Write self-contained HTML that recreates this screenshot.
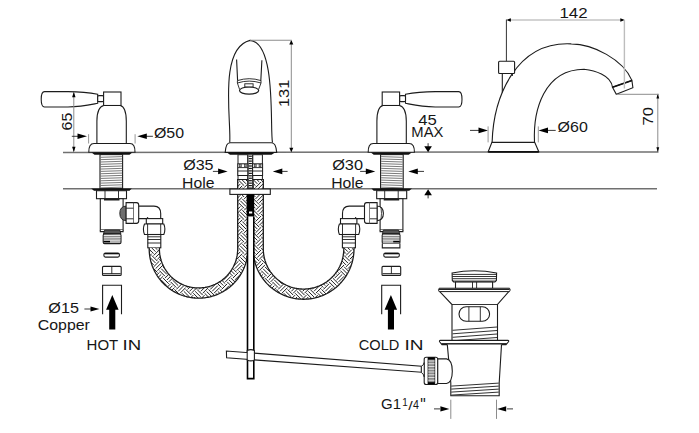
<!DOCTYPE html>
<html><head><meta charset="utf-8"><style>
html,body{margin:0;padding:0;background:#fff;overflow:hidden;}
svg{display:block;}
text{font-family:"Liberation Sans",sans-serif;fill:#161616;}
</style></head><body>
<svg width="699" height="433" viewBox="0 0 699 433">
<line x1="63.00" y1="152.45" x2="658.50" y2="151.95" stroke="#707070" stroke-width="1.45" />
<line x1="63.00" y1="188.80" x2="657.00" y2="188.80" stroke="#707070" stroke-width="1.45" />
<g><path d="M44.5,91.6 L68,91.6 C82,91.8 90,92.8 97.7,94.2 L97.7,103.3 C90,104.8 82,106.8 68,107 L44.5,107 Q41.2,107 41.2,99.3 Q41.2,91.6 44.5,91.6 Z" stroke="#1c1c1c" stroke-width="1.1" fill="#fff"/><rect x="97.7" y="95.6" width="5.9" height="6" rx="1.2" stroke="#1c1c1c" stroke-width="1.1" fill="#fff"/><rect x="103.6" y="92" width="17.4" height="13.5" stroke="#1c1c1c" stroke-width="1.1" fill="#fff"/><path d="M96.9,143.5 L96.9,121 Q97,107 103.8,105.5 L120.3,105.5 Q126.2,107 126.3,121 L126.3,143.5" stroke="#1c1c1c" stroke-width="1.1" fill="#fff"/><path d="M88.8,152.3 Q88.6,143.5 94,143.5 L130,143.5 Q135.2,143.5 135,152.3 Z" stroke="#1c1c1c" stroke-width="1.1" fill="#fff"/><path d="M91.5,152.4 L132.3,152.4 L129.5,154.8 L94.5,154.8 Z" fill="#111"/><rect x="100" y="154.6" width="22.6" height="34" stroke="#1c1c1c" stroke-width="1.1" fill="#fff"/><line x1="100.5" y1="157.30" x2="122.1" y2="156.60" stroke="#6a6a6a" stroke-width="0.9"/><line x1="100.5" y1="159.65" x2="122.1" y2="158.95" stroke="#6a6a6a" stroke-width="0.9"/><line x1="100.5" y1="162.00" x2="122.1" y2="161.30" stroke="#6a6a6a" stroke-width="0.9"/><line x1="100.5" y1="164.35" x2="122.1" y2="163.65" stroke="#6a6a6a" stroke-width="0.9"/><line x1="100.5" y1="166.70" x2="122.1" y2="166.00" stroke="#6a6a6a" stroke-width="0.9"/><line x1="100.5" y1="169.05" x2="122.1" y2="168.35" stroke="#6a6a6a" stroke-width="0.9"/><line x1="100.5" y1="171.40" x2="122.1" y2="170.70" stroke="#6a6a6a" stroke-width="0.9"/><line x1="100.5" y1="173.75" x2="122.1" y2="173.05" stroke="#6a6a6a" stroke-width="0.9"/><line x1="100.5" y1="176.10" x2="122.1" y2="175.40" stroke="#6a6a6a" stroke-width="0.9"/><line x1="100.5" y1="178.45" x2="122.1" y2="177.75" stroke="#6a6a6a" stroke-width="0.9"/><line x1="100.5" y1="180.80" x2="122.1" y2="180.10" stroke="#6a6a6a" stroke-width="0.9"/><line x1="100.5" y1="183.15" x2="122.1" y2="182.45" stroke="#6a6a6a" stroke-width="0.9"/><line x1="100.5" y1="185.50" x2="122.1" y2="184.80" stroke="#6a6a6a" stroke-width="0.9"/><line x1="100.5" y1="187.85" x2="122.1" y2="187.15" stroke="#6a6a6a" stroke-width="0.9"/><path d="M91.2,188.5 L131.8,188.5 L129.5,190.7 L94,190.7 Z" fill="#111"/><rect x="96.5" y="190.7" width="30" height="8" stroke="#1c1c1c" stroke-width="1.1" fill="#fff"/><line x1="105" y1="190.7" x2="105" y2="198.7" stroke="#1c1c1c" stroke-width="0.9"/><line x1="118.5" y1="190.7" x2="118.5" y2="198.7" stroke="#1c1c1c" stroke-width="0.9"/><rect x="100.3" y="198.7" width="22.8" height="31.2" stroke="#1c1c1c" stroke-width="1.1" fill="#fff"/><line x1="104" y1="199.7" x2="119.5" y2="199.7" stroke="#1c1c1c" stroke-width="1.6"/><path d="M100.3,229.9 L100.3,231.6 L123.1,231.6 L123.1,229.9" stroke="#1c1c1c" stroke-width="1.1" fill="#fff"/><path d="M104.6,230 L119.8,230 L120.9,233.9 L103.4,233.9 Z" fill="#555" stroke="#1c1c1c" stroke-width="0.8"/><rect x="103.2" y="233.9" width="17.8" height="9.7" rx="1.4" stroke="#1c1c1c" stroke-width="1.1" fill="#b4b4b4"/><line x1="103.8" y1="235.6" x2="120.4" y2="235.29999999999998" stroke="#f2f2f2" stroke-width="0.9"/><line x1="103.8" y1="237.9" x2="120.4" y2="237.6" stroke="#f2f2f2" stroke-width="0.9"/><line x1="103.8" y1="240.2" x2="120.4" y2="239.89999999999998" stroke="#f2f2f2" stroke-width="0.9"/><line x1="103.8" y1="236.7" x2="120.4" y2="236.7" stroke="#6a6a6a" stroke-width="0.7"/><line x1="103.8" y1="239.0" x2="120.4" y2="239.0" stroke="#6a6a6a" stroke-width="0.7"/><line x1="103.6" y1="241.6" x2="110" y2="241.6" stroke="#000" stroke-width="1.5"/><rect x="103.9" y="253" width="15.5" height="4.1" rx="1.5" stroke="#1c1c1c" stroke-width="1.1" fill="#fff"/><line x1="104.5" y1="253.7" x2="118.8" y2="253.7" stroke="#000" stroke-width="1.2"/><rect x="102.5" y="266.4" width="18.7" height="9" rx="1" stroke="#1c1c1c" stroke-width="1.1" fill="#fff"/><line x1="111.8" y1="266.4" x2="111.8" y2="274" stroke="#1c1c1c" stroke-width="0.9"/><line x1="103" y1="273.6" x2="120.7" y2="273.6" stroke="#1c1c1c" stroke-width="0.9"/><path d="M102.6,314.3 L102.6,285.3 L121.5,285.3 L121.5,314.3" stroke="#1c1c1c" stroke-width="1.1" fill="none"/><path d="M112.3,295.0 L118.6,309.8 L115.3,309.8 L115.3,329.5 L109.2,329.5 L109.2,309.8 L106.1,309.8 Z" fill="#000"/><path d="M126.2,206 Q119.8,206.5 119.8,213.3 Q119.8,220.2 126.2,220.7 Z" fill="#6e6e6e" stroke="#1c1c1c" stroke-width="0.9"/><path d="M126.1,202.6 L133.8,202.6 L133.8,223.4 L126.1,223.4 Z" stroke="#1c1c1c" stroke-width="1.1" fill="#fff"/><line x1="126.1" y1="208.2" x2="133.8" y2="208.2" stroke="#1c1c1c" stroke-width="0.9"/><line x1="126.1" y1="218.8" x2="133.8" y2="218.8" stroke="#1c1c1c" stroke-width="0.9"/><path d="M133.8,202.6 L136.5,202.6 Q138.7,202.8 138.7,205 L138.7,221 Q138.7,223.2 136.5,223.4 L133.8,223.4" stroke="#1c1c1c" stroke-width="1.1" fill="#fff"/><path d="M138.7,206.1 L154,206.1 Q160.7,206.3 160.7,213.5 L160.7,218.6 M138.7,218.6 L146.4,218.6 Q147.6,218.6 147.8,217.2" stroke="#1c1c1c" stroke-width="1.1" fill="none"/><rect x="146.3" y="218.6" width="16.4" height="5.4" stroke="#1c1c1c" stroke-width="1.1" fill="#fff"/><path d="M144.5,224 L163.8,224 Q166,229.2 163.8,234.5 L144.5,234.5 Q142.3,229.2 144.5,224 Z" stroke="#1c1c1c" stroke-width="1.1" fill="#fff"/><line x1="147.6" y1="224" x2="147.6" y2="234.5" stroke="#1c1c1c" stroke-width="0.9"/><line x1="160.7" y1="224" x2="160.7" y2="234.5" stroke="#1c1c1c" stroke-width="0.9"/><rect x="147.8" y="234.5" width="13" height="13.3" stroke="#1c1c1c" stroke-width="1.1" fill="#fff"/><line x1="147.8" y1="236.8" x2="160.8" y2="236.8" stroke="#1c1c1c" stroke-width="0.9"/><line x1="147.8" y1="239.5" x2="160.8" y2="239.5" stroke="#1c1c1c" stroke-width="0.9"/><line x1="147.8" y1="243" x2="160.8" y2="243" stroke="#1c1c1c" stroke-width="0.9"/></g>
<g transform="translate(503.2,0) scale(-1,1)"><path d="M44.5,91.6 L68,91.6 C82,91.8 90,92.8 97.7,94.2 L97.7,103.3 C90,104.8 82,106.8 68,107 L44.5,107 Q41.2,107 41.2,99.3 Q41.2,91.6 44.5,91.6 Z" stroke="#1c1c1c" stroke-width="1.1" fill="#fff"/><rect x="97.7" y="95.6" width="5.9" height="6" rx="1.2" stroke="#1c1c1c" stroke-width="1.1" fill="#fff"/><rect x="103.6" y="92" width="17.4" height="13.5" stroke="#1c1c1c" stroke-width="1.1" fill="#fff"/><path d="M96.9,143.5 L96.9,121 Q97,107 103.8,105.5 L120.3,105.5 Q126.2,107 126.3,121 L126.3,143.5" stroke="#1c1c1c" stroke-width="1.1" fill="#fff"/><path d="M88.8,152.3 Q88.6,143.5 94,143.5 L130,143.5 Q135.2,143.5 135,152.3 Z" stroke="#1c1c1c" stroke-width="1.1" fill="#fff"/><path d="M91.5,152.4 L132.3,152.4 L129.5,154.8 L94.5,154.8 Z" fill="#111"/><rect x="100" y="154.6" width="22.6" height="34" stroke="#1c1c1c" stroke-width="1.1" fill="#fff"/><line x1="100.5" y1="157.30" x2="122.1" y2="156.60" stroke="#6a6a6a" stroke-width="0.9"/><line x1="100.5" y1="159.65" x2="122.1" y2="158.95" stroke="#6a6a6a" stroke-width="0.9"/><line x1="100.5" y1="162.00" x2="122.1" y2="161.30" stroke="#6a6a6a" stroke-width="0.9"/><line x1="100.5" y1="164.35" x2="122.1" y2="163.65" stroke="#6a6a6a" stroke-width="0.9"/><line x1="100.5" y1="166.70" x2="122.1" y2="166.00" stroke="#6a6a6a" stroke-width="0.9"/><line x1="100.5" y1="169.05" x2="122.1" y2="168.35" stroke="#6a6a6a" stroke-width="0.9"/><line x1="100.5" y1="171.40" x2="122.1" y2="170.70" stroke="#6a6a6a" stroke-width="0.9"/><line x1="100.5" y1="173.75" x2="122.1" y2="173.05" stroke="#6a6a6a" stroke-width="0.9"/><line x1="100.5" y1="176.10" x2="122.1" y2="175.40" stroke="#6a6a6a" stroke-width="0.9"/><line x1="100.5" y1="178.45" x2="122.1" y2="177.75" stroke="#6a6a6a" stroke-width="0.9"/><line x1="100.5" y1="180.80" x2="122.1" y2="180.10" stroke="#6a6a6a" stroke-width="0.9"/><line x1="100.5" y1="183.15" x2="122.1" y2="182.45" stroke="#6a6a6a" stroke-width="0.9"/><line x1="100.5" y1="185.50" x2="122.1" y2="184.80" stroke="#6a6a6a" stroke-width="0.9"/><line x1="100.5" y1="187.85" x2="122.1" y2="187.15" stroke="#6a6a6a" stroke-width="0.9"/><path d="M91.2,188.5 L131.8,188.5 L129.5,190.7 L94,190.7 Z" fill="#111"/><rect x="96.5" y="190.7" width="30" height="8" stroke="#1c1c1c" stroke-width="1.1" fill="#fff"/><line x1="105" y1="190.7" x2="105" y2="198.7" stroke="#1c1c1c" stroke-width="0.9"/><line x1="118.5" y1="190.7" x2="118.5" y2="198.7" stroke="#1c1c1c" stroke-width="0.9"/><rect x="100.3" y="198.7" width="22.8" height="31.2" stroke="#1c1c1c" stroke-width="1.1" fill="#fff"/><line x1="104" y1="199.7" x2="119.5" y2="199.7" stroke="#1c1c1c" stroke-width="1.6"/><path d="M100.3,229.9 L100.3,231.6 L123.1,231.6 L123.1,229.9" stroke="#1c1c1c" stroke-width="1.1" fill="#fff"/><path d="M104.6,230 L119.8,230 L120.9,233.9 L103.4,233.9 Z" fill="#555" stroke="#1c1c1c" stroke-width="0.8"/><rect x="103.2" y="233.9" width="17.8" height="9.7" rx="1.4" stroke="#1c1c1c" stroke-width="1.1" fill="#b4b4b4"/><line x1="103.8" y1="235.6" x2="120.4" y2="235.29999999999998" stroke="#f2f2f2" stroke-width="0.9"/><line x1="103.8" y1="237.9" x2="120.4" y2="237.6" stroke="#f2f2f2" stroke-width="0.9"/><line x1="103.8" y1="240.2" x2="120.4" y2="239.89999999999998" stroke="#f2f2f2" stroke-width="0.9"/><line x1="103.8" y1="236.7" x2="120.4" y2="236.7" stroke="#6a6a6a" stroke-width="0.7"/><line x1="103.8" y1="239.0" x2="120.4" y2="239.0" stroke="#6a6a6a" stroke-width="0.7"/><line x1="103.6" y1="241.6" x2="110" y2="241.6" stroke="#000" stroke-width="1.5"/><path d="M103.3,243.6 L103.3,247.9 L120.9,247.9 L120.9,243.6" stroke="#1c1c1c" stroke-width="1.1" fill="#fff"/><rect x="103.9" y="253" width="15.5" height="4.1" rx="1.5" stroke="#1c1c1c" stroke-width="1.1" fill="#fff"/><line x1="104.5" y1="253.7" x2="118.8" y2="253.7" stroke="#000" stroke-width="1.2"/><rect x="102.5" y="266.4" width="18.7" height="9" rx="1" stroke="#1c1c1c" stroke-width="1.1" fill="#fff"/><line x1="111.8" y1="266.4" x2="111.8" y2="274" stroke="#1c1c1c" stroke-width="0.9"/><line x1="103" y1="273.6" x2="120.7" y2="273.6" stroke="#1c1c1c" stroke-width="0.9"/><path d="M102.6,314.3 L102.6,285.3 L121.5,285.3 L121.5,314.3" stroke="#1c1c1c" stroke-width="1.1" fill="none"/><path d="M112.3,295.0 L118.6,309.8 L115.3,309.8 L115.3,329.5 L109.2,329.5 L109.2,309.8 L106.1,309.8 Z" fill="#000"/><path d="M126.2,206 Q119.8,206.5 119.8,213.3 Q119.8,220.2 126.2,220.7 Z" fill="#fff" stroke="#1c1c1c" stroke-width="1.1"/><path d="M122.2,207 Q121.2,213.3 122.2,219.7" stroke="#1c1c1c" stroke-width="0.8" fill="none"/><path d="M126.1,202.6 L133.8,202.6 L133.8,223.4 L126.1,223.4 Z" stroke="#1c1c1c" stroke-width="1.1" fill="#fff"/><line x1="126.1" y1="208.2" x2="133.8" y2="208.2" stroke="#1c1c1c" stroke-width="0.9"/><line x1="126.1" y1="218.8" x2="133.8" y2="218.8" stroke="#1c1c1c" stroke-width="0.9"/><path d="M133.8,202.6 L136.5,202.6 Q138.7,202.8 138.7,205 L138.7,221 Q138.7,223.2 136.5,223.4 L133.8,223.4" stroke="#1c1c1c" stroke-width="1.1" fill="#fff"/><path d="M138.7,206.1 L154,206.1 Q160.7,206.3 160.7,213.5 L160.7,218.6 M138.7,218.6 L146.4,218.6 Q147.6,218.6 147.8,217.2" stroke="#1c1c1c" stroke-width="1.1" fill="none"/><rect x="146.3" y="218.6" width="16.4" height="5.4" stroke="#1c1c1c" stroke-width="1.1" fill="#fff"/><path d="M144.5,224 L163.8,224 Q166,229.2 163.8,234.5 L144.5,234.5 Q142.3,229.2 144.5,224 Z" stroke="#1c1c1c" stroke-width="1.1" fill="#fff"/><line x1="147.6" y1="224" x2="147.6" y2="234.5" stroke="#1c1c1c" stroke-width="0.9"/><line x1="160.7" y1="224" x2="160.7" y2="234.5" stroke="#1c1c1c" stroke-width="0.9"/><rect x="147.8" y="234.5" width="13" height="13.3" stroke="#1c1c1c" stroke-width="1.1" fill="#fff"/><line x1="147.8" y1="236.8" x2="160.8" y2="236.8" stroke="#1c1c1c" stroke-width="0.9"/><line x1="147.8" y1="239.5" x2="160.8" y2="239.5" stroke="#1c1c1c" stroke-width="0.9"/><line x1="147.8" y1="243" x2="160.8" y2="243" stroke="#1c1c1c" stroke-width="0.9"/></g>
<clipPath id="c1"><path d="M149.20,247.80 L149.20,248.80 L149.21,249.90 L149.25,251.03 L149.32,252.16 L149.40,253.22 L149.51,254.35 L149.65,255.47 L149.82,256.59 L150.00,257.65 L150.22,258.76 L150.46,259.86 L150.71,260.90 L151.00,261.99 L151.31,263.08 L151.65,264.16 L152.00,265.17 L152.38,266.24 L152.80,267.29 L153.23,268.34 L153.66,269.31 L154.15,270.33 L154.65,271.35 L155.15,272.29 L155.70,273.28 L156.27,274.26 L156.87,275.22 L157.45,276.12 L158.09,277.05 L158.75,277.97 L159.43,278.88 L160.09,279.72 L160.80,280.59 L161.54,281.45 L162.26,282.24 L163.03,283.06 L163.83,283.87 L164.64,284.66 L165.43,285.38 L166.28,286.13 L167.14,286.86 L167.97,287.53 L168.87,288.22 L169.78,288.89 L170.71,289.54 L171.59,290.14 L172.55,290.74 L173.52,291.33 L174.50,291.89 L175.44,292.40 L176.44,292.92 L177.46,293.42 L178.43,293.86 L179.47,294.31 L180.52,294.74 L181.58,295.14 L182.58,295.50 L183.66,295.85 L184.74,296.18 L185.83,296.48 L186.87,296.75 L187.97,297.00 L189.08,297.23 L190.13,297.43 L191.25,297.61 L192.37,297.76 L193.49,297.89 L194.55,297.99 L195.68,298.07 L196.82,298.12 L197.95,298.15 L199.01,298.15 L200.15,298.12 L201.28,298.07 L202.34,298.00 L203.47,297.90 L204.59,297.78 L205.72,297.63 L206.77,297.46 L207.88,297.26 L208.99,297.03 L210.03,296.80 L211.13,296.52 L212.22,296.22 L213.31,295.89 L214.32,295.56 L215.39,295.19 L216.45,294.79 L217.50,294.37 L218.48,293.95 L219.51,293.48 L220.53,292.98 L221.48,292.50 L222.48,291.96 L223.46,291.40 L224.43,290.82 L225.33,290.25 L226.28,289.62 L227.21,288.98 L228.12,288.31 L228.97,287.66 L229.85,286.95 L230.72,286.22 L231.52,285.52 L232.35,284.75 L233.17,283.97 L233.97,283.16 L234.70,282.39 L235.46,281.55 L236.21,280.70 L236.93,279.82 L237.59,278.99 L238.27,278.08 L238.93,277.17 L239.54,276.29 L240.16,275.34 L240.75,274.38 L241.33,273.40 L241.85,272.47 L242.38,271.47 L242.89,270.46 L243.35,269.50 L243.81,268.46 L244.25,267.42 L244.67,266.37 L245.04,265.37 L245.40,264.29 L245.75,263.22 L246.07,262.13 L246.34,261.10 L246.61,260.00 L246.86,258.89 L247.06,257.85 L247.26,256.73 L247.43,255.61 L247.57,254.49 L247.68,253.43 L247.77,252.30 L247.84,251.17 L247.88,250.04 L247.90,248.97 L247.90,247.94 L247.90,246.94 L247.90,245.94 L247.90,244.94 L247.90,243.94 L247.90,242.94 L247.90,241.94 L247.90,240.95 L247.90,239.95 L247.90,238.95 L247.90,237.95 L247.90,236.95 L247.90,235.95 L247.90,234.95 L247.90,233.95 L247.90,232.95 L247.90,231.95 L247.90,230.95 L247.90,229.95 L247.90,228.96 L247.90,227.96 L247.90,226.96 L247.90,225.96 L247.90,224.96 L247.90,223.96 L247.90,222.96 L247.90,221.96 L247.90,220.96 L247.90,219.96 L247.90,218.96 L247.90,217.97 L247.90,216.97 L247.90,215.97 L247.90,214.97 L247.90,213.97 L247.90,212.97 L247.90,211.97 L247.90,210.97 L247.90,209.97 L247.90,208.97 L247.90,207.97 L247.90,206.98 L247.90,205.98 L247.90,204.98 L247.90,203.98 L247.90,202.98 L247.90,201.98 L247.90,200.98 L247.90,199.98 L247.90,198.98 L247.90,197.98 L247.90,196.98 L247.90,195.98 L247.90,194.99 L247.90,193.99 L247.90,192.99 L247.90,191.99 L247.90,190.99 L247.90,189.99 L247.90,188.99 L247.90,187.99 L247.90,186.99 L247.90,185.99 L247.90,184.99 L247.90,184.00 L247.90,183.00 L247.90,182.00 L247.90,181.00 L247.90,180.00 L247.90,179.00 L237.70,179.00 L237.70,180.00 L237.70,181.00 L237.70,182.00 L237.70,183.00 L237.70,184.00 L237.70,184.99 L237.70,185.99 L237.70,186.99 L237.70,187.99 L237.70,188.99 L237.70,189.99 L237.70,190.99 L237.70,191.99 L237.70,192.99 L237.70,193.99 L237.70,194.99 L237.70,195.98 L237.70,196.98 L237.70,197.98 L237.70,198.98 L237.70,199.98 L237.70,200.98 L237.70,201.98 L237.70,202.98 L237.70,203.98 L237.70,204.98 L237.70,205.98 L237.70,206.98 L237.70,207.97 L237.70,208.97 L237.70,209.97 L237.70,210.97 L237.70,211.97 L237.70,212.97 L237.70,213.97 L237.70,214.97 L237.70,215.97 L237.70,216.97 L237.70,217.97 L237.70,218.96 L237.70,219.96 L237.70,220.96 L237.70,221.96 L237.70,222.96 L237.70,223.96 L237.70,224.96 L237.70,225.96 L237.70,226.96 L237.70,227.96 L237.70,228.96 L237.70,229.95 L237.70,230.95 L237.70,231.95 L237.70,232.95 L237.70,233.95 L237.70,234.95 L237.70,235.95 L237.70,236.95 L237.70,237.95 L237.70,238.95 L237.70,239.95 L237.70,240.95 L237.70,241.94 L237.70,242.94 L237.70,243.94 L237.70,244.94 L237.70,245.94 L237.70,246.94 L237.70,247.94 L237.70,248.90 L237.69,249.84 L237.65,250.70 L237.60,251.57 L237.53,252.43 L237.43,253.36 L237.32,254.21 L237.19,255.07 L237.05,255.92 L236.87,256.84 L236.68,257.68 L236.47,258.52 L236.23,259.42 L235.99,260.25 L235.72,261.08 L235.44,261.90 L235.12,262.77 L234.80,263.58 L234.47,264.38 L234.11,265.17 L233.71,266.01 L233.33,266.78 L232.92,267.55 L232.46,268.36 L232.02,269.10 L231.57,269.84 L231.09,270.56 L230.56,271.33 L230.06,272.03 L229.54,272.73 L228.96,273.46 L228.41,274.12 L227.84,274.78 L227.26,275.42 L226.62,276.09 L226.01,276.71 L225.38,277.31 L224.75,277.90 L224.04,278.51 L223.38,279.07 L222.71,279.61 L221.97,280.18 L221.27,280.68 L220.56,281.18 L219.83,281.66 L219.05,282.16 L218.30,282.60 L217.55,283.03 L216.79,283.44 L215.96,283.86 L215.18,284.24 L214.39,284.60 L213.54,284.97 L212.73,285.29 L211.92,285.59 L211.11,285.88 L210.22,286.17 L209.39,286.42 L208.56,286.65 L207.72,286.86 L206.81,287.07 L205.96,287.24 L205.11,287.40 L204.19,287.54 L203.33,287.66 L202.47,287.75 L201.61,287.83 L200.68,287.89 L199.81,287.93 L198.95,287.95 L198.01,287.95 L197.15,287.92 L196.28,287.88 L195.42,287.82 L194.49,287.74 L193.63,287.64 L192.78,287.52 L191.92,287.38 L191.00,287.22 L190.16,287.04 L189.31,286.84 L188.41,286.61 L187.58,286.38 L186.75,286.13 L185.93,285.86 L185.05,285.55 L184.24,285.24 L183.44,284.91 L182.64,284.57 L181.79,284.18 L181.02,283.80 L180.25,283.41 L179.43,282.96 L178.68,282.53 L177.94,282.08 L177.20,281.62 L176.43,281.10 L175.72,280.60 L175.02,280.09 L174.34,279.56 L173.61,278.98 L172.95,278.42 L172.30,277.85 L171.62,277.21 L171.00,276.61 L170.39,275.99 L169.79,275.37 L169.17,274.67 L168.60,274.02 L168.05,273.35 L167.48,272.62 L166.96,271.92 L166.46,271.22 L165.97,270.50 L165.46,269.72 L165.01,268.99 L164.57,268.24 L164.15,267.48 L163.71,266.66 L163.32,265.88 L162.96,265.10 L162.58,264.25 L162.24,263.45 L161.93,262.64 L161.63,261.83 L161.33,260.95 L161.07,260.12 L160.83,259.29 L160.61,258.45 L160.39,257.55 L160.21,256.70 L160.04,255.85 L159.88,254.93 L159.76,254.08 L159.65,253.22 L159.56,252.36 L159.49,251.43 L159.44,250.56 L159.41,249.70 L159.40,248.80 L159.40,247.80Z"/></clipPath><path d="M149.20,247.80 L149.20,248.80 L149.21,249.90 L149.25,251.03 L149.32,252.16 L149.40,253.22 L149.51,254.35 L149.65,255.47 L149.82,256.59 L150.00,257.65 L150.22,258.76 L150.46,259.86 L150.71,260.90 L151.00,261.99 L151.31,263.08 L151.65,264.16 L152.00,265.17 L152.38,266.24 L152.80,267.29 L153.23,268.34 L153.66,269.31 L154.15,270.33 L154.65,271.35 L155.15,272.29 L155.70,273.28 L156.27,274.26 L156.87,275.22 L157.45,276.12 L158.09,277.05 L158.75,277.97 L159.43,278.88 L160.09,279.72 L160.80,280.59 L161.54,281.45 L162.26,282.24 L163.03,283.06 L163.83,283.87 L164.64,284.66 L165.43,285.38 L166.28,286.13 L167.14,286.86 L167.97,287.53 L168.87,288.22 L169.78,288.89 L170.71,289.54 L171.59,290.14 L172.55,290.74 L173.52,291.33 L174.50,291.89 L175.44,292.40 L176.44,292.92 L177.46,293.42 L178.43,293.86 L179.47,294.31 L180.52,294.74 L181.58,295.14 L182.58,295.50 L183.66,295.85 L184.74,296.18 L185.83,296.48 L186.87,296.75 L187.97,297.00 L189.08,297.23 L190.13,297.43 L191.25,297.61 L192.37,297.76 L193.49,297.89 L194.55,297.99 L195.68,298.07 L196.82,298.12 L197.95,298.15 L199.01,298.15 L200.15,298.12 L201.28,298.07 L202.34,298.00 L203.47,297.90 L204.59,297.78 L205.72,297.63 L206.77,297.46 L207.88,297.26 L208.99,297.03 L210.03,296.80 L211.13,296.52 L212.22,296.22 L213.31,295.89 L214.32,295.56 L215.39,295.19 L216.45,294.79 L217.50,294.37 L218.48,293.95 L219.51,293.48 L220.53,292.98 L221.48,292.50 L222.48,291.96 L223.46,291.40 L224.43,290.82 L225.33,290.25 L226.28,289.62 L227.21,288.98 L228.12,288.31 L228.97,287.66 L229.85,286.95 L230.72,286.22 L231.52,285.52 L232.35,284.75 L233.17,283.97 L233.97,283.16 L234.70,282.39 L235.46,281.55 L236.21,280.70 L236.93,279.82 L237.59,278.99 L238.27,278.08 L238.93,277.17 L239.54,276.29 L240.16,275.34 L240.75,274.38 L241.33,273.40 L241.85,272.47 L242.38,271.47 L242.89,270.46 L243.35,269.50 L243.81,268.46 L244.25,267.42 L244.67,266.37 L245.04,265.37 L245.40,264.29 L245.75,263.22 L246.07,262.13 L246.34,261.10 L246.61,260.00 L246.86,258.89 L247.06,257.85 L247.26,256.73 L247.43,255.61 L247.57,254.49 L247.68,253.43 L247.77,252.30 L247.84,251.17 L247.88,250.04 L247.90,248.97 L247.90,247.94 L247.90,246.94 L247.90,245.94 L247.90,244.94 L247.90,243.94 L247.90,242.94 L247.90,241.94 L247.90,240.95 L247.90,239.95 L247.90,238.95 L247.90,237.95 L247.90,236.95 L247.90,235.95 L247.90,234.95 L247.90,233.95 L247.90,232.95 L247.90,231.95 L247.90,230.95 L247.90,229.95 L247.90,228.96 L247.90,227.96 L247.90,226.96 L247.90,225.96 L247.90,224.96 L247.90,223.96 L247.90,222.96 L247.90,221.96 L247.90,220.96 L247.90,219.96 L247.90,218.96 L247.90,217.97 L247.90,216.97 L247.90,215.97 L247.90,214.97 L247.90,213.97 L247.90,212.97 L247.90,211.97 L247.90,210.97 L247.90,209.97 L247.90,208.97 L247.90,207.97 L247.90,206.98 L247.90,205.98 L247.90,204.98 L247.90,203.98 L247.90,202.98 L247.90,201.98 L247.90,200.98 L247.90,199.98 L247.90,198.98 L247.90,197.98 L247.90,196.98 L247.90,195.98 L247.90,194.99 L247.90,193.99 L247.90,192.99 L247.90,191.99 L247.90,190.99 L247.90,189.99 L247.90,188.99 L247.90,187.99 L247.90,186.99 L247.90,185.99 L247.90,184.99 L247.90,184.00 L247.90,183.00 L247.90,182.00 L247.90,181.00 L247.90,180.00 L247.90,179.00 L237.70,179.00 L237.70,180.00 L237.70,181.00 L237.70,182.00 L237.70,183.00 L237.70,184.00 L237.70,184.99 L237.70,185.99 L237.70,186.99 L237.70,187.99 L237.70,188.99 L237.70,189.99 L237.70,190.99 L237.70,191.99 L237.70,192.99 L237.70,193.99 L237.70,194.99 L237.70,195.98 L237.70,196.98 L237.70,197.98 L237.70,198.98 L237.70,199.98 L237.70,200.98 L237.70,201.98 L237.70,202.98 L237.70,203.98 L237.70,204.98 L237.70,205.98 L237.70,206.98 L237.70,207.97 L237.70,208.97 L237.70,209.97 L237.70,210.97 L237.70,211.97 L237.70,212.97 L237.70,213.97 L237.70,214.97 L237.70,215.97 L237.70,216.97 L237.70,217.97 L237.70,218.96 L237.70,219.96 L237.70,220.96 L237.70,221.96 L237.70,222.96 L237.70,223.96 L237.70,224.96 L237.70,225.96 L237.70,226.96 L237.70,227.96 L237.70,228.96 L237.70,229.95 L237.70,230.95 L237.70,231.95 L237.70,232.95 L237.70,233.95 L237.70,234.95 L237.70,235.95 L237.70,236.95 L237.70,237.95 L237.70,238.95 L237.70,239.95 L237.70,240.95 L237.70,241.94 L237.70,242.94 L237.70,243.94 L237.70,244.94 L237.70,245.94 L237.70,246.94 L237.70,247.94 L237.70,248.90 L237.69,249.84 L237.65,250.70 L237.60,251.57 L237.53,252.43 L237.43,253.36 L237.32,254.21 L237.19,255.07 L237.05,255.92 L236.87,256.84 L236.68,257.68 L236.47,258.52 L236.23,259.42 L235.99,260.25 L235.72,261.08 L235.44,261.90 L235.12,262.77 L234.80,263.58 L234.47,264.38 L234.11,265.17 L233.71,266.01 L233.33,266.78 L232.92,267.55 L232.46,268.36 L232.02,269.10 L231.57,269.84 L231.09,270.56 L230.56,271.33 L230.06,272.03 L229.54,272.73 L228.96,273.46 L228.41,274.12 L227.84,274.78 L227.26,275.42 L226.62,276.09 L226.01,276.71 L225.38,277.31 L224.75,277.90 L224.04,278.51 L223.38,279.07 L222.71,279.61 L221.97,280.18 L221.27,280.68 L220.56,281.18 L219.83,281.66 L219.05,282.16 L218.30,282.60 L217.55,283.03 L216.79,283.44 L215.96,283.86 L215.18,284.24 L214.39,284.60 L213.54,284.97 L212.73,285.29 L211.92,285.59 L211.11,285.88 L210.22,286.17 L209.39,286.42 L208.56,286.65 L207.72,286.86 L206.81,287.07 L205.96,287.24 L205.11,287.40 L204.19,287.54 L203.33,287.66 L202.47,287.75 L201.61,287.83 L200.68,287.89 L199.81,287.93 L198.95,287.95 L198.01,287.95 L197.15,287.92 L196.28,287.88 L195.42,287.82 L194.49,287.74 L193.63,287.64 L192.78,287.52 L191.92,287.38 L191.00,287.22 L190.16,287.04 L189.31,286.84 L188.41,286.61 L187.58,286.38 L186.75,286.13 L185.93,285.86 L185.05,285.55 L184.24,285.24 L183.44,284.91 L182.64,284.57 L181.79,284.18 L181.02,283.80 L180.25,283.41 L179.43,282.96 L178.68,282.53 L177.94,282.08 L177.20,281.62 L176.43,281.10 L175.72,280.60 L175.02,280.09 L174.34,279.56 L173.61,278.98 L172.95,278.42 L172.30,277.85 L171.62,277.21 L171.00,276.61 L170.39,275.99 L169.79,275.37 L169.17,274.67 L168.60,274.02 L168.05,273.35 L167.48,272.62 L166.96,271.92 L166.46,271.22 L165.97,270.50 L165.46,269.72 L165.01,268.99 L164.57,268.24 L164.15,267.48 L163.71,266.66 L163.32,265.88 L162.96,265.10 L162.58,264.25 L162.24,263.45 L161.93,262.64 L161.63,261.83 L161.33,260.95 L161.07,260.12 L160.83,259.29 L160.61,258.45 L160.39,257.55 L160.21,256.70 L160.04,255.85 L159.88,254.93 L159.76,254.08 L159.65,253.22 L159.56,252.36 L159.49,251.43 L159.44,250.56 L159.41,249.70 L159.40,248.80 L159.40,247.80Z" fill="#fff" stroke="none"/><path clip-path="url(#c1)" d="M151.79,232.87L157.45,238.53M149.91,234.76L155.56,240.42M148.02,236.65L153.68,242.30M148.02,238.53L142.36,244.19M149.91,240.42L144.25,246.07M151.79,242.30L146.14,247.96M140.48,244.19L146.14,249.84M138.59,246.07L144.25,251.73M136.71,247.96L142.36,253.62M159.33,238.53L153.68,244.19M161.22,240.42L155.56,246.07M163.11,242.30L157.45,247.96M151.79,244.19L157.45,249.84M149.91,246.07L155.56,251.73M148.02,247.96L153.68,253.62M148.02,249.84L142.36,255.50M149.91,251.73L144.25,257.39M151.79,253.62L146.14,259.27M242.30,164.99L247.96,170.65M240.42,166.88L246.07,172.53M238.53,168.76L244.19,174.42M238.53,170.65L232.87,176.31M240.42,172.53L234.76,178.19M242.30,174.42L236.65,180.08M230.99,176.31L236.65,181.96M229.10,178.19L234.76,183.85M227.22,180.08L232.87,185.73M163.11,244.19L168.76,249.84M161.22,246.07L166.88,251.73M159.33,247.96L164.99,253.62M159.33,249.84L153.68,255.50M161.22,251.73L155.56,257.39M163.11,253.62L157.45,259.27M151.79,255.50L157.45,261.16M149.91,257.39L155.56,263.04M148.02,259.27L153.68,264.93M148.02,261.16L142.36,266.81M149.91,263.04L144.25,268.70M151.79,264.93L146.14,270.59M249.84,170.65L244.19,176.31M251.73,172.53L246.07,178.19M253.62,174.42L247.96,180.08M242.30,176.31L247.96,181.96M240.42,178.19L246.07,183.85M238.53,180.08L244.19,185.73M238.53,181.96L232.87,187.62M240.42,183.85L234.76,189.50M242.30,185.73L236.65,191.39M230.99,187.62L236.65,193.28M229.10,189.50L234.76,195.16M227.22,191.39L232.87,197.05M163.11,255.50L168.76,261.16M161.22,257.39L166.88,263.04M159.33,259.27L164.99,264.93M159.33,261.16L153.68,266.81M161.22,263.04L155.56,268.70M163.11,264.93L157.45,270.59M151.79,266.81L157.45,272.47M149.91,268.70L155.56,274.36M148.02,270.59L153.68,276.24M253.62,176.31L259.27,181.96M251.73,178.19L257.39,183.85M249.84,180.08L255.50,185.73M249.84,181.96L244.19,187.62M251.73,183.85L246.07,189.50M253.62,185.73L247.96,191.39M242.30,187.62L247.96,193.28M240.42,189.50L246.07,195.16M238.53,191.39L244.19,197.05M238.53,193.28L232.87,198.93M240.42,195.16L234.76,200.82M242.30,197.05L236.65,202.70M230.99,198.93L236.65,204.59M229.10,200.82L234.76,206.48M227.22,202.70L232.87,208.36M170.65,261.16L164.99,266.81M172.53,263.04L166.88,268.70M174.42,264.93L168.76,270.59M163.11,266.81L168.76,272.47M161.22,268.70L166.88,274.36M159.33,270.59L164.99,276.24M159.33,272.47L153.68,278.13M161.22,274.36L155.56,280.01M163.11,276.24L157.45,281.90M151.79,278.13L157.45,283.79M149.91,280.01L155.56,285.67M148.02,281.90L153.68,287.56M253.62,187.62L259.27,193.28M251.73,189.50L257.39,195.16M249.84,191.39L255.50,197.05M249.84,193.28L244.19,198.93M251.73,195.16L246.07,200.82M253.62,197.05L247.96,202.70M242.30,198.93L247.96,204.59M240.42,200.82L246.07,206.48M238.53,202.70L244.19,208.36M238.53,204.59L232.87,210.25M240.42,206.48L234.76,212.13M242.30,208.36L236.65,214.02M230.99,210.25L236.65,215.90M229.10,212.13L234.76,217.79M227.22,214.02L232.87,219.67M174.42,266.81L180.08,272.47M172.53,268.70L178.19,274.36M170.65,270.59L176.31,276.24M170.65,272.47L164.99,278.13M172.53,274.36L166.88,280.01M174.42,276.24L168.76,281.90M163.11,278.13L168.76,283.79M161.22,280.01L166.88,285.67M159.33,281.90L164.99,287.56M159.33,283.79L153.68,289.44M161.22,285.67L155.56,291.33M163.11,287.56L157.45,293.21M253.62,198.93L259.27,204.59M251.73,200.82L257.39,206.48M249.84,202.70L255.50,208.36M249.84,204.59L244.19,210.25M251.73,206.48L246.07,212.13M253.62,208.36L247.96,214.02M242.30,210.25L247.96,215.90M240.42,212.13L246.07,217.79M238.53,214.02L244.19,219.67M238.53,215.90L232.87,221.56M240.42,217.79L234.76,223.45M242.30,219.67L236.65,225.33M230.99,221.56L236.65,227.22M229.10,223.45L234.76,229.10M227.22,225.33L232.87,230.99M181.96,272.47L176.31,278.13M183.85,274.36L178.19,280.01M185.73,276.24L180.08,281.90M174.42,278.13L180.08,283.79M172.53,280.01L178.19,285.67M170.65,281.90L176.31,287.56M170.65,283.79L164.99,289.44M172.53,285.67L166.88,291.33M174.42,287.56L168.76,293.21M163.11,289.44L168.76,295.10M161.22,291.33L166.88,296.98M159.33,293.21L164.99,298.87M253.62,210.25L259.27,215.90M251.73,212.13L257.39,217.79M249.84,214.02L255.50,219.67M249.84,215.90L244.19,221.56M251.73,217.79L246.07,223.45M253.62,219.67L247.96,225.33M242.30,221.56L247.96,227.22M240.42,223.45L246.07,229.10M238.53,225.33L244.19,230.99M238.53,227.22L232.87,232.87M240.42,229.10L234.76,234.76M242.30,230.99L236.65,236.65M230.99,232.87L236.65,238.53M229.10,234.76L234.76,240.42M227.22,236.65L232.87,242.30M185.73,278.13L191.39,283.79M183.85,280.01L189.50,285.67M181.96,281.90L187.62,287.56M181.96,283.79L176.31,289.44M183.85,285.67L178.19,291.33M185.73,287.56L180.08,293.21M174.42,289.44L180.08,295.10M172.53,291.33L178.19,296.98M170.65,293.21L176.31,298.87M253.62,221.56L259.27,227.22M251.73,223.45L257.39,229.10M249.84,225.33L255.50,230.99M249.84,227.22L244.19,232.87M251.73,229.10L246.07,234.76M253.62,230.99L247.96,236.65M242.30,232.87L247.96,238.53M240.42,234.76L246.07,240.42M238.53,236.65L244.19,242.30M238.53,238.53L232.87,244.19M240.42,240.42L234.76,246.07M242.30,242.30L236.65,247.96M230.99,244.19L236.65,249.84M229.10,246.07L234.76,251.73M227.22,247.96L232.87,253.62M197.05,278.13L202.70,283.79M195.16,280.01L200.82,285.67M193.28,281.90L198.93,287.56M193.28,283.79L187.62,289.44M195.16,285.67L189.50,291.33M197.05,287.56L191.39,293.21M185.73,289.44L191.39,295.10M183.85,291.33L189.50,296.98M181.96,293.21L187.62,298.87M181.96,295.10L176.31,300.76M183.85,296.98L178.19,302.64M185.73,298.87L180.08,304.53M253.62,232.87L259.27,238.53M251.73,234.76L257.39,240.42M249.84,236.65L255.50,242.30M249.84,238.53L244.19,244.19M251.73,240.42L246.07,246.07M253.62,242.30L247.96,247.96M242.30,244.19L247.96,249.84M240.42,246.07L246.07,251.73M238.53,247.96L244.19,253.62M238.53,249.84L232.87,255.50M240.42,251.73L234.76,257.39M242.30,253.62L236.65,259.27M230.99,255.50L236.65,261.16M229.10,257.39L234.76,263.04M227.22,259.27L232.87,264.93M227.22,261.16L221.56,266.81M229.10,263.04L223.45,268.70M230.99,264.93L225.33,270.59M219.67,266.81L225.33,272.47M217.79,268.70L223.45,274.36M215.90,270.59L221.56,276.24M215.90,272.47L210.25,278.13M217.79,274.36L212.13,280.01M219.67,276.24L214.02,281.90M208.36,278.13L214.02,283.79M206.48,280.01L212.13,285.67M204.59,281.90L210.25,287.56M204.59,283.79L198.93,289.44M206.48,285.67L200.82,291.33M208.36,287.56L202.70,293.21M197.05,289.44L202.70,295.10M195.16,291.33L200.82,296.98M193.28,293.21L198.93,298.87M193.28,295.10L187.62,300.76M195.16,296.98L189.50,302.64M197.05,298.87L191.39,304.53M253.62,244.19L259.27,249.84M251.73,246.07L257.39,251.73M249.84,247.96L255.50,253.62M249.84,249.84L244.19,255.50M251.73,251.73L246.07,257.39M253.62,253.62L247.96,259.27M242.30,255.50L247.96,261.16M240.42,257.39L246.07,263.04M238.53,259.27L244.19,264.93M238.53,261.16L232.87,266.81M240.42,263.04L234.76,268.70M242.30,264.93L236.65,270.59M230.99,266.81L236.65,272.47M229.10,268.70L234.76,274.36M227.22,270.59L232.87,276.24M227.22,272.47L221.56,278.13M229.10,274.36L223.45,280.01M230.99,276.24L225.33,281.90M219.67,278.13L225.33,283.79M217.79,280.01L223.45,285.67M215.90,281.90L221.56,287.56M215.90,283.79L210.25,289.44M217.79,285.67L212.13,291.33M219.67,287.56L214.02,293.21M208.36,289.44L214.02,295.10M206.48,291.33L212.13,296.98M204.59,293.21L210.25,298.87M204.59,295.10L198.93,300.76M206.48,296.98L200.82,302.64M208.36,298.87L202.70,304.53M197.05,300.76L202.70,306.41M195.16,302.64L200.82,308.30M193.28,304.53L198.93,310.18M253.62,255.50L259.27,261.16M251.73,257.39L257.39,263.04M249.84,259.27L255.50,264.93M249.84,261.16L244.19,266.81M251.73,263.04L246.07,268.70M253.62,264.93L247.96,270.59M242.30,266.81L247.96,272.47M240.42,268.70L246.07,274.36M238.53,270.59L244.19,276.24M238.53,272.47L232.87,278.13M240.42,274.36L234.76,280.01M242.30,276.24L236.65,281.90M230.99,278.13L236.65,283.79M229.10,280.01L234.76,285.67M227.22,281.90L232.87,287.56M227.22,283.79L221.56,289.44M229.10,285.67L223.45,291.33M230.99,287.56L225.33,293.21M219.67,289.44L225.33,295.10M217.79,291.33L223.45,296.98M215.90,293.21L221.56,298.87M215.90,295.10L210.25,300.76M217.79,296.98L212.13,302.64M219.67,298.87L214.02,304.53M242.30,278.13L247.96,283.79M240.42,280.01L246.07,285.67M238.53,281.90L244.19,287.56M238.53,283.79L232.87,289.44M240.42,285.67L234.76,291.33M242.30,287.56L236.65,293.21M230.99,289.44L236.65,295.10M229.10,291.33L234.76,296.98M227.22,293.21L232.87,298.87" stroke="#222" stroke-width="1.0" fill="none"/><path d="M149.20,247.80 L149.20,248.80 L149.21,249.90 L149.25,251.03 L149.32,252.16 L149.40,253.22 L149.51,254.35 L149.65,255.47 L149.82,256.59 L150.00,257.65 L150.22,258.76 L150.46,259.86 L150.71,260.90 L151.00,261.99 L151.31,263.08 L151.65,264.16 L152.00,265.17 L152.38,266.24 L152.80,267.29 L153.23,268.34 L153.66,269.31 L154.15,270.33 L154.65,271.35 L155.15,272.29 L155.70,273.28 L156.27,274.26 L156.87,275.22 L157.45,276.12 L158.09,277.05 L158.75,277.97 L159.43,278.88 L160.09,279.72 L160.80,280.59 L161.54,281.45 L162.26,282.24 L163.03,283.06 L163.83,283.87 L164.64,284.66 L165.43,285.38 L166.28,286.13 L167.14,286.86 L167.97,287.53 L168.87,288.22 L169.78,288.89 L170.71,289.54 L171.59,290.14 L172.55,290.74 L173.52,291.33 L174.50,291.89 L175.44,292.40 L176.44,292.92 L177.46,293.42 L178.43,293.86 L179.47,294.31 L180.52,294.74 L181.58,295.14 L182.58,295.50 L183.66,295.85 L184.74,296.18 L185.83,296.48 L186.87,296.75 L187.97,297.00 L189.08,297.23 L190.13,297.43 L191.25,297.61 L192.37,297.76 L193.49,297.89 L194.55,297.99 L195.68,298.07 L196.82,298.12 L197.95,298.15 L199.01,298.15 L200.15,298.12 L201.28,298.07 L202.34,298.00 L203.47,297.90 L204.59,297.78 L205.72,297.63 L206.77,297.46 L207.88,297.26 L208.99,297.03 L210.03,296.80 L211.13,296.52 L212.22,296.22 L213.31,295.89 L214.32,295.56 L215.39,295.19 L216.45,294.79 L217.50,294.37 L218.48,293.95 L219.51,293.48 L220.53,292.98 L221.48,292.50 L222.48,291.96 L223.46,291.40 L224.43,290.82 L225.33,290.25 L226.28,289.62 L227.21,288.98 L228.12,288.31 L228.97,287.66 L229.85,286.95 L230.72,286.22 L231.52,285.52 L232.35,284.75 L233.17,283.97 L233.97,283.16 L234.70,282.39 L235.46,281.55 L236.21,280.70 L236.93,279.82 L237.59,278.99 L238.27,278.08 L238.93,277.17 L239.54,276.29 L240.16,275.34 L240.75,274.38 L241.33,273.40 L241.85,272.47 L242.38,271.47 L242.89,270.46 L243.35,269.50 L243.81,268.46 L244.25,267.42 L244.67,266.37 L245.04,265.37 L245.40,264.29 L245.75,263.22 L246.07,262.13 L246.34,261.10 L246.61,260.00 L246.86,258.89 L247.06,257.85 L247.26,256.73 L247.43,255.61 L247.57,254.49 L247.68,253.43 L247.77,252.30 L247.84,251.17 L247.88,250.04 L247.90,248.97 L247.90,247.94 L247.90,246.94 L247.90,245.94 L247.90,244.94 L247.90,243.94 L247.90,242.94 L247.90,241.94 L247.90,240.95 L247.90,239.95 L247.90,238.95 L247.90,237.95 L247.90,236.95 L247.90,235.95 L247.90,234.95 L247.90,233.95 L247.90,232.95 L247.90,231.95 L247.90,230.95 L247.90,229.95 L247.90,228.96 L247.90,227.96 L247.90,226.96 L247.90,225.96 L247.90,224.96 L247.90,223.96 L247.90,222.96 L247.90,221.96 L247.90,220.96 L247.90,219.96 L247.90,218.96 L247.90,217.97 L247.90,216.97 L247.90,215.97 L247.90,214.97 L247.90,213.97 L247.90,212.97 L247.90,211.97 L247.90,210.97 L247.90,209.97 L247.90,208.97 L247.90,207.97 L247.90,206.98 L247.90,205.98 L247.90,204.98 L247.90,203.98 L247.90,202.98 L247.90,201.98 L247.90,200.98 L247.90,199.98 L247.90,198.98 L247.90,197.98 L247.90,196.98 L247.90,195.98 L247.90,194.99 L247.90,193.99 L247.90,192.99 L247.90,191.99 L247.90,190.99 L247.90,189.99 L247.90,188.99 L247.90,187.99 L247.90,186.99 L247.90,185.99 L247.90,184.99 L247.90,184.00 L247.90,183.00 L247.90,182.00 L247.90,181.00 L247.90,180.00 L247.90,179.00" stroke="#1c1c1c" stroke-width="1.3" fill="none"/><path d="M159.40,247.80 L159.40,248.80 L159.41,249.70 L159.44,250.56 L159.49,251.43 L159.56,252.36 L159.65,253.22 L159.76,254.08 L159.88,254.93 L160.04,255.85 L160.21,256.70 L160.39,257.55 L160.61,258.45 L160.83,259.29 L161.07,260.12 L161.33,260.95 L161.63,261.83 L161.93,262.64 L162.24,263.45 L162.58,264.25 L162.96,265.10 L163.32,265.88 L163.71,266.66 L164.15,267.48 L164.57,268.24 L165.01,268.99 L165.46,269.72 L165.97,270.50 L166.46,271.22 L166.96,271.92 L167.48,272.62 L168.05,273.35 L168.60,274.02 L169.17,274.67 L169.79,275.37 L170.39,275.99 L171.00,276.61 L171.62,277.21 L172.30,277.85 L172.95,278.42 L173.61,278.98 L174.34,279.56 L175.02,280.09 L175.72,280.60 L176.43,281.10 L177.20,281.62 L177.94,282.08 L178.68,282.53 L179.43,282.96 L180.25,283.41 L181.02,283.80 L181.79,284.18 L182.64,284.57 L183.44,284.91 L184.24,285.24 L185.05,285.55 L185.93,285.86 L186.75,286.13 L187.58,286.38 L188.41,286.61 L189.31,286.84 L190.16,287.04 L191.00,287.22 L191.92,287.38 L192.78,287.52 L193.63,287.64 L194.49,287.74 L195.42,287.82 L196.28,287.88 L197.15,287.92 L198.01,287.95 L198.95,287.95 L199.81,287.93 L200.68,287.89 L201.61,287.83 L202.47,287.75 L203.33,287.66 L204.19,287.54 L205.11,287.40 L205.96,287.24 L206.81,287.07 L207.72,286.86 L208.56,286.65 L209.39,286.42 L210.22,286.17 L211.11,285.88 L211.92,285.59 L212.73,285.29 L213.54,284.97 L214.39,284.60 L215.18,284.24 L215.96,283.86 L216.79,283.44 L217.55,283.03 L218.30,282.60 L219.05,282.16 L219.83,281.66 L220.56,281.18 L221.27,280.68 L221.97,280.18 L222.71,279.61 L223.38,279.07 L224.04,278.51 L224.75,277.90 L225.38,277.31 L226.01,276.71 L226.62,276.09 L227.26,275.42 L227.84,274.78 L228.41,274.12 L228.96,273.46 L229.54,272.73 L230.06,272.03 L230.56,271.33 L231.09,270.56 L231.57,269.84 L232.02,269.10 L232.46,268.36 L232.92,267.55 L233.33,266.78 L233.71,266.01 L234.11,265.17 L234.47,264.38 L234.80,263.58 L235.12,262.77 L235.44,261.90 L235.72,261.08 L235.99,260.25 L236.23,259.42 L236.47,258.52 L236.68,257.68 L236.87,256.84 L237.05,255.92 L237.19,255.07 L237.32,254.21 L237.43,253.36 L237.53,252.43 L237.60,251.57 L237.65,250.70 L237.69,249.84 L237.70,248.90 L237.70,247.94 L237.70,246.94 L237.70,245.94 L237.70,244.94 L237.70,243.94 L237.70,242.94 L237.70,241.94 L237.70,240.95 L237.70,239.95 L237.70,238.95 L237.70,237.95 L237.70,236.95 L237.70,235.95 L237.70,234.95 L237.70,233.95 L237.70,232.95 L237.70,231.95 L237.70,230.95 L237.70,229.95 L237.70,228.96 L237.70,227.96 L237.70,226.96 L237.70,225.96 L237.70,224.96 L237.70,223.96 L237.70,222.96 L237.70,221.96 L237.70,220.96 L237.70,219.96 L237.70,218.96 L237.70,217.97 L237.70,216.97 L237.70,215.97 L237.70,214.97 L237.70,213.97 L237.70,212.97 L237.70,211.97 L237.70,210.97 L237.70,209.97 L237.70,208.97 L237.70,207.97 L237.70,206.98 L237.70,205.98 L237.70,204.98 L237.70,203.98 L237.70,202.98 L237.70,201.98 L237.70,200.98 L237.70,199.98 L237.70,198.98 L237.70,197.98 L237.70,196.98 L237.70,195.98 L237.70,194.99 L237.70,193.99 L237.70,192.99 L237.70,191.99 L237.70,190.99 L237.70,189.99 L237.70,188.99 L237.70,187.99 L237.70,186.99 L237.70,185.99 L237.70,184.99 L237.70,184.00 L237.70,183.00 L237.70,182.00 L237.70,181.00 L237.70,180.00 L237.70,179.00" stroke="#1c1c1c" stroke-width="1.3" fill="none"/>
<clipPath id="c2"><path d="M253.10,179.00 L253.10,180.00 L253.10,180.99 L253.10,181.99 L253.10,182.99 L253.10,183.98 L253.10,184.98 L253.10,185.98 L253.10,186.97 L253.10,187.97 L253.10,188.97 L253.10,189.96 L253.10,190.96 L253.10,191.96 L253.10,192.95 L253.10,193.95 L253.10,194.95 L253.10,195.94 L253.10,196.94 L253.10,197.94 L253.10,198.93 L253.10,199.93 L253.10,200.92 L253.10,201.92 L253.10,202.92 L253.10,203.91 L253.10,204.91 L253.10,205.91 L253.10,206.90 L253.10,207.90 L253.10,208.90 L253.10,209.89 L253.10,210.89 L253.10,211.89 L253.10,212.88 L253.10,213.88 L253.10,214.88 L253.10,215.87 L253.10,216.87 L253.10,217.87 L253.10,218.86 L253.10,219.86 L253.10,220.86 L253.10,221.85 L253.10,222.85 L253.10,223.85 L253.10,224.84 L253.10,225.84 L253.10,226.84 L253.10,227.83 L253.10,228.83 L253.10,229.83 L253.10,230.82 L253.10,231.82 L253.10,232.82 L253.10,233.81 L253.10,234.81 L253.10,235.81 L253.10,236.80 L253.10,237.80 L253.10,238.80 L253.10,239.79 L253.10,240.79 L253.10,241.79 L253.10,242.78 L253.10,243.78 L253.10,244.77 L253.10,245.77 L253.10,246.77 L253.10,247.76 L253.10,248.76 L253.11,249.86 L253.15,250.99 L253.20,252.05 L253.29,253.18 L253.40,254.30 L253.54,255.42 L253.69,256.48 L253.87,257.59 L254.08,258.70 L254.30,259.74 L254.56,260.84 L254.84,261.94 L255.13,262.96 L255.46,264.04 L255.81,265.11 L256.17,266.12 L256.57,267.17 L256.99,268.22 L257.41,269.20 L257.88,270.23 L258.37,271.24 L258.85,272.19 L259.39,273.19 L259.94,274.17 L260.49,275.08 L261.09,276.04 L261.71,276.99 L262.31,277.86 L262.97,278.78 L263.65,279.68 L264.31,280.51 L265.03,281.38 L265.77,282.24 L266.53,283.08 L267.26,283.85 L268.06,284.65 L268.87,285.44 L269.65,286.16 L270.49,286.91 L271.36,287.64 L272.18,288.31 L273.08,289.00 L273.98,289.68 L274.85,290.29 L275.79,290.92 L276.74,291.53 L277.64,292.09 L278.62,292.66 L279.61,293.21 L280.55,293.70 L281.56,294.21 L282.59,294.69 L283.56,295.12 L284.60,295.55 L285.65,295.97 L286.65,296.33 L287.72,296.70 L288.80,297.04 L289.82,297.34 L290.91,297.64 L292.00,297.91 L293.11,298.16 L294.15,298.37 L295.26,298.56 L296.38,298.74 L297.43,298.88 L298.56,299.00 L299.68,299.10 L300.74,299.17 L301.87,299.22 L303.00,299.25 L304.06,299.25 L305.19,299.22 L306.32,299.17 L307.38,299.10 L308.51,299.00 L309.63,298.88 L310.69,298.74 L311.80,298.57 L312.92,298.37 L313.96,298.16 L315.06,297.92 L316.16,297.65 L317.19,297.37 L318.27,297.05 L319.35,296.71 L320.35,296.37 L321.42,295.98 L322.47,295.57 L323.51,295.13 L324.48,294.70 L325.51,294.22 L326.52,293.72 L327.46,293.22 L328.45,292.68 L329.42,292.11 L330.33,291.55 L331.28,290.94 L332.22,290.31 L333.09,289.70 L334.00,289.03 L334.89,288.33 L335.72,287.66 L336.58,286.93 L337.42,286.18 L338.21,285.46 L339.02,284.68 L339.81,283.87 L340.54,283.10 L341.30,282.26 L342.04,281.41 L342.72,280.59 L343.42,279.71 L344.11,278.81 L344.73,277.94 L345.37,277.01 L345.99,276.07 L346.59,275.11 L347.14,274.20 L347.70,273.22 L348.23,272.22 L348.72,271.28 L349.21,270.26 L349.68,269.23 L350.10,268.25 L350.52,267.21 L350.92,266.15 L351.28,265.15 L351.63,264.07 L351.96,262.99 L352.25,261.97 L352.53,260.88 L352.79,259.78 L353.01,258.74 L353.22,257.62 L353.41,256.51 L353.56,255.46 L353.69,254.34 L353.81,253.21 L353.89,252.15 L353.95,251.02 L353.99,249.89 L354.00,248.80 L354.00,247.80 L343.80,247.80 L343.80,248.80 L343.79,249.69 L343.76,250.56 L343.71,251.42 L343.64,252.34 L343.56,253.20 L343.45,254.06 L343.32,254.98 L343.18,255.83 L343.02,256.68 L342.83,257.59 L342.63,258.43 L342.42,259.27 L342.16,260.16 L341.91,260.99 L341.64,261.81 L341.33,262.68 L341.02,263.49 L340.70,264.29 L340.33,265.14 L339.97,265.93 L339.60,266.70 L339.17,267.53 L338.76,268.29 L338.34,269.04 L337.86,269.84 L337.40,270.57 L336.93,271.29 L336.44,272.00 L335.89,272.76 L335.37,273.44 L334.84,274.12 L334.24,274.84 L333.68,275.49 L333.10,276.13 L332.46,276.80 L331.85,277.42 L331.23,278.02 L330.55,278.65 L329.90,279.22 L329.25,279.78 L328.52,280.37 L327.84,280.89 L327.15,281.41 L326.39,281.94 L325.67,282.42 L324.95,282.89 L324.15,283.38 L323.41,283.81 L322.65,284.23 L321.83,284.66 L321.05,285.04 L320.27,285.41 L319.42,285.79 L318.63,286.12 L317.82,286.43 L317.01,286.73 L316.13,287.03 L315.31,287.29 L314.48,287.54 L313.58,287.78 L312.75,287.98 L311.90,288.17 L310.99,288.36 L310.14,288.51 L309.29,288.64 L308.37,288.76 L307.51,288.85 L306.65,288.93 L305.72,288.99 L304.86,289.03 L304.00,289.05 L303.07,289.05 L302.20,289.03 L301.34,288.99 L300.41,288.93 L299.56,288.85 L298.70,288.76 L297.78,288.63 L296.92,288.50 L296.07,288.35 L295.16,288.17 L294.32,287.98 L293.48,287.77 L292.65,287.55 L291.76,287.28 L290.93,287.02 L290.12,286.74 L289.24,286.42 L288.44,286.11 L287.64,285.77 L286.79,285.40 L286.01,285.03 L285.24,284.64 L284.42,284.21 L283.66,283.79 L282.92,283.36 L282.12,282.87 L281.40,282.41 L280.68,281.92 L279.92,281.39 L279.23,280.87 L278.55,280.34 L277.83,279.76 L277.17,279.20 L276.52,278.63 L275.84,277.99 L275.22,277.39 L274.62,276.78 L273.98,276.10 L273.40,275.46 L272.83,274.81 L272.28,274.15 L271.71,273.42 L271.19,272.73 L270.68,272.03 L270.15,271.26 L269.68,270.54 L269.22,269.81 L268.74,269.01 L268.32,268.26 L267.91,267.50 L267.49,266.67 L267.11,265.90 L266.75,265.11 L266.39,264.26 L266.06,263.46 L265.76,262.65 L265.45,261.77 L265.18,260.95 L264.93,260.13 L264.68,259.23 L264.46,258.40 L264.26,257.56 L264.07,256.65 L263.91,255.80 L263.77,254.95 L263.64,254.03 L263.54,253.17 L263.45,252.31 L263.39,251.45 L263.34,250.52 L263.31,249.66 L263.30,248.76 L263.30,247.76 L263.30,246.77 L263.30,245.77 L263.30,244.77 L263.30,243.78 L263.30,242.78 L263.30,241.79 L263.30,240.79 L263.30,239.79 L263.30,238.80 L263.30,237.80 L263.30,236.80 L263.30,235.81 L263.30,234.81 L263.30,233.81 L263.30,232.82 L263.30,231.82 L263.30,230.82 L263.30,229.83 L263.30,228.83 L263.30,227.83 L263.30,226.84 L263.30,225.84 L263.30,224.84 L263.30,223.85 L263.30,222.85 L263.30,221.85 L263.30,220.86 L263.30,219.86 L263.30,218.86 L263.30,217.87 L263.30,216.87 L263.30,215.87 L263.30,214.88 L263.30,213.88 L263.30,212.88 L263.30,211.89 L263.30,210.89 L263.30,209.89 L263.30,208.90 L263.30,207.90 L263.30,206.90 L263.30,205.91 L263.30,204.91 L263.30,203.91 L263.30,202.92 L263.30,201.92 L263.30,200.92 L263.30,199.93 L263.30,198.93 L263.30,197.94 L263.30,196.94 L263.30,195.94 L263.30,194.95 L263.30,193.95 L263.30,192.95 L263.30,191.96 L263.30,190.96 L263.30,189.96 L263.30,188.97 L263.30,187.97 L263.30,186.97 L263.30,185.98 L263.30,184.98 L263.30,183.98 L263.30,182.99 L263.30,181.99 L263.30,180.99 L263.30,180.00 L263.30,179.00Z"/></clipPath><path d="M253.10,179.00 L253.10,180.00 L253.10,180.99 L253.10,181.99 L253.10,182.99 L253.10,183.98 L253.10,184.98 L253.10,185.98 L253.10,186.97 L253.10,187.97 L253.10,188.97 L253.10,189.96 L253.10,190.96 L253.10,191.96 L253.10,192.95 L253.10,193.95 L253.10,194.95 L253.10,195.94 L253.10,196.94 L253.10,197.94 L253.10,198.93 L253.10,199.93 L253.10,200.92 L253.10,201.92 L253.10,202.92 L253.10,203.91 L253.10,204.91 L253.10,205.91 L253.10,206.90 L253.10,207.90 L253.10,208.90 L253.10,209.89 L253.10,210.89 L253.10,211.89 L253.10,212.88 L253.10,213.88 L253.10,214.88 L253.10,215.87 L253.10,216.87 L253.10,217.87 L253.10,218.86 L253.10,219.86 L253.10,220.86 L253.10,221.85 L253.10,222.85 L253.10,223.85 L253.10,224.84 L253.10,225.84 L253.10,226.84 L253.10,227.83 L253.10,228.83 L253.10,229.83 L253.10,230.82 L253.10,231.82 L253.10,232.82 L253.10,233.81 L253.10,234.81 L253.10,235.81 L253.10,236.80 L253.10,237.80 L253.10,238.80 L253.10,239.79 L253.10,240.79 L253.10,241.79 L253.10,242.78 L253.10,243.78 L253.10,244.77 L253.10,245.77 L253.10,246.77 L253.10,247.76 L253.10,248.76 L253.11,249.86 L253.15,250.99 L253.20,252.05 L253.29,253.18 L253.40,254.30 L253.54,255.42 L253.69,256.48 L253.87,257.59 L254.08,258.70 L254.30,259.74 L254.56,260.84 L254.84,261.94 L255.13,262.96 L255.46,264.04 L255.81,265.11 L256.17,266.12 L256.57,267.17 L256.99,268.22 L257.41,269.20 L257.88,270.23 L258.37,271.24 L258.85,272.19 L259.39,273.19 L259.94,274.17 L260.49,275.08 L261.09,276.04 L261.71,276.99 L262.31,277.86 L262.97,278.78 L263.65,279.68 L264.31,280.51 L265.03,281.38 L265.77,282.24 L266.53,283.08 L267.26,283.85 L268.06,284.65 L268.87,285.44 L269.65,286.16 L270.49,286.91 L271.36,287.64 L272.18,288.31 L273.08,289.00 L273.98,289.68 L274.85,290.29 L275.79,290.92 L276.74,291.53 L277.64,292.09 L278.62,292.66 L279.61,293.21 L280.55,293.70 L281.56,294.21 L282.59,294.69 L283.56,295.12 L284.60,295.55 L285.65,295.97 L286.65,296.33 L287.72,296.70 L288.80,297.04 L289.82,297.34 L290.91,297.64 L292.00,297.91 L293.11,298.16 L294.15,298.37 L295.26,298.56 L296.38,298.74 L297.43,298.88 L298.56,299.00 L299.68,299.10 L300.74,299.17 L301.87,299.22 L303.00,299.25 L304.06,299.25 L305.19,299.22 L306.32,299.17 L307.38,299.10 L308.51,299.00 L309.63,298.88 L310.69,298.74 L311.80,298.57 L312.92,298.37 L313.96,298.16 L315.06,297.92 L316.16,297.65 L317.19,297.37 L318.27,297.05 L319.35,296.71 L320.35,296.37 L321.42,295.98 L322.47,295.57 L323.51,295.13 L324.48,294.70 L325.51,294.22 L326.52,293.72 L327.46,293.22 L328.45,292.68 L329.42,292.11 L330.33,291.55 L331.28,290.94 L332.22,290.31 L333.09,289.70 L334.00,289.03 L334.89,288.33 L335.72,287.66 L336.58,286.93 L337.42,286.18 L338.21,285.46 L339.02,284.68 L339.81,283.87 L340.54,283.10 L341.30,282.26 L342.04,281.41 L342.72,280.59 L343.42,279.71 L344.11,278.81 L344.73,277.94 L345.37,277.01 L345.99,276.07 L346.59,275.11 L347.14,274.20 L347.70,273.22 L348.23,272.22 L348.72,271.28 L349.21,270.26 L349.68,269.23 L350.10,268.25 L350.52,267.21 L350.92,266.15 L351.28,265.15 L351.63,264.07 L351.96,262.99 L352.25,261.97 L352.53,260.88 L352.79,259.78 L353.01,258.74 L353.22,257.62 L353.41,256.51 L353.56,255.46 L353.69,254.34 L353.81,253.21 L353.89,252.15 L353.95,251.02 L353.99,249.89 L354.00,248.80 L354.00,247.80 L343.80,247.80 L343.80,248.80 L343.79,249.69 L343.76,250.56 L343.71,251.42 L343.64,252.34 L343.56,253.20 L343.45,254.06 L343.32,254.98 L343.18,255.83 L343.02,256.68 L342.83,257.59 L342.63,258.43 L342.42,259.27 L342.16,260.16 L341.91,260.99 L341.64,261.81 L341.33,262.68 L341.02,263.49 L340.70,264.29 L340.33,265.14 L339.97,265.93 L339.60,266.70 L339.17,267.53 L338.76,268.29 L338.34,269.04 L337.86,269.84 L337.40,270.57 L336.93,271.29 L336.44,272.00 L335.89,272.76 L335.37,273.44 L334.84,274.12 L334.24,274.84 L333.68,275.49 L333.10,276.13 L332.46,276.80 L331.85,277.42 L331.23,278.02 L330.55,278.65 L329.90,279.22 L329.25,279.78 L328.52,280.37 L327.84,280.89 L327.15,281.41 L326.39,281.94 L325.67,282.42 L324.95,282.89 L324.15,283.38 L323.41,283.81 L322.65,284.23 L321.83,284.66 L321.05,285.04 L320.27,285.41 L319.42,285.79 L318.63,286.12 L317.82,286.43 L317.01,286.73 L316.13,287.03 L315.31,287.29 L314.48,287.54 L313.58,287.78 L312.75,287.98 L311.90,288.17 L310.99,288.36 L310.14,288.51 L309.29,288.64 L308.37,288.76 L307.51,288.85 L306.65,288.93 L305.72,288.99 L304.86,289.03 L304.00,289.05 L303.07,289.05 L302.20,289.03 L301.34,288.99 L300.41,288.93 L299.56,288.85 L298.70,288.76 L297.78,288.63 L296.92,288.50 L296.07,288.35 L295.16,288.17 L294.32,287.98 L293.48,287.77 L292.65,287.55 L291.76,287.28 L290.93,287.02 L290.12,286.74 L289.24,286.42 L288.44,286.11 L287.64,285.77 L286.79,285.40 L286.01,285.03 L285.24,284.64 L284.42,284.21 L283.66,283.79 L282.92,283.36 L282.12,282.87 L281.40,282.41 L280.68,281.92 L279.92,281.39 L279.23,280.87 L278.55,280.34 L277.83,279.76 L277.17,279.20 L276.52,278.63 L275.84,277.99 L275.22,277.39 L274.62,276.78 L273.98,276.10 L273.40,275.46 L272.83,274.81 L272.28,274.15 L271.71,273.42 L271.19,272.73 L270.68,272.03 L270.15,271.26 L269.68,270.54 L269.22,269.81 L268.74,269.01 L268.32,268.26 L267.91,267.50 L267.49,266.67 L267.11,265.90 L266.75,265.11 L266.39,264.26 L266.06,263.46 L265.76,262.65 L265.45,261.77 L265.18,260.95 L264.93,260.13 L264.68,259.23 L264.46,258.40 L264.26,257.56 L264.07,256.65 L263.91,255.80 L263.77,254.95 L263.64,254.03 L263.54,253.17 L263.45,252.31 L263.39,251.45 L263.34,250.52 L263.31,249.66 L263.30,248.76 L263.30,247.76 L263.30,246.77 L263.30,245.77 L263.30,244.77 L263.30,243.78 L263.30,242.78 L263.30,241.79 L263.30,240.79 L263.30,239.79 L263.30,238.80 L263.30,237.80 L263.30,236.80 L263.30,235.81 L263.30,234.81 L263.30,233.81 L263.30,232.82 L263.30,231.82 L263.30,230.82 L263.30,229.83 L263.30,228.83 L263.30,227.83 L263.30,226.84 L263.30,225.84 L263.30,224.84 L263.30,223.85 L263.30,222.85 L263.30,221.85 L263.30,220.86 L263.30,219.86 L263.30,218.86 L263.30,217.87 L263.30,216.87 L263.30,215.87 L263.30,214.88 L263.30,213.88 L263.30,212.88 L263.30,211.89 L263.30,210.89 L263.30,209.89 L263.30,208.90 L263.30,207.90 L263.30,206.90 L263.30,205.91 L263.30,204.91 L263.30,203.91 L263.30,202.92 L263.30,201.92 L263.30,200.92 L263.30,199.93 L263.30,198.93 L263.30,197.94 L263.30,196.94 L263.30,195.94 L263.30,194.95 L263.30,193.95 L263.30,192.95 L263.30,191.96 L263.30,190.96 L263.30,189.96 L263.30,188.97 L263.30,187.97 L263.30,186.97 L263.30,185.98 L263.30,184.98 L263.30,183.98 L263.30,182.99 L263.30,181.99 L263.30,180.99 L263.30,180.00 L263.30,179.00Z" fill="#fff" stroke="none"/><path clip-path="url(#c2)" d="M253.62,164.99L259.27,170.65M251.73,166.88L257.39,172.53M249.84,168.76L255.50,174.42M249.84,170.65L244.19,176.31M251.73,172.53L246.07,178.19M253.62,174.42L247.96,180.08M264.93,164.99L270.59,170.65M263.04,166.88L268.70,172.53M261.16,168.76L266.81,174.42M261.16,170.65L255.50,176.31M263.04,172.53L257.39,178.19M264.93,174.42L259.27,180.08M253.62,176.31L259.27,181.96M251.73,178.19L257.39,183.85M249.84,180.08L255.50,185.73M249.84,181.96L244.19,187.62M251.73,183.85L246.07,189.50M253.62,185.73L247.96,191.39M264.93,176.31L270.59,181.96M263.04,178.19L268.70,183.85M261.16,180.08L266.81,185.73M261.16,181.96L255.50,187.62M263.04,183.85L257.39,189.50M264.93,185.73L259.27,191.39M253.62,187.62L259.27,193.28M251.73,189.50L257.39,195.16M249.84,191.39L255.50,197.05M249.84,193.28L244.19,198.93M251.73,195.16L246.07,200.82M253.62,197.05L247.96,202.70M264.93,187.62L270.59,193.28M263.04,189.50L268.70,195.16M261.16,191.39L266.81,197.05M261.16,193.28L255.50,198.93M263.04,195.16L257.39,200.82M264.93,197.05L259.27,202.70M253.62,198.93L259.27,204.59M251.73,200.82L257.39,206.48M249.84,202.70L255.50,208.36M249.84,204.59L244.19,210.25M251.73,206.48L246.07,212.13M253.62,208.36L247.96,214.02M264.93,198.93L270.59,204.59M263.04,200.82L268.70,206.48M261.16,202.70L266.81,208.36M261.16,204.59L255.50,210.25M263.04,206.48L257.39,212.13M264.93,208.36L259.27,214.02M253.62,210.25L259.27,215.90M251.73,212.13L257.39,217.79M249.84,214.02L255.50,219.67M249.84,215.90L244.19,221.56M251.73,217.79L246.07,223.45M253.62,219.67L247.96,225.33M264.93,210.25L270.59,215.90M263.04,212.13L268.70,217.79M261.16,214.02L266.81,219.67M261.16,215.90L255.50,221.56M263.04,217.79L257.39,223.45M264.93,219.67L259.27,225.33M253.62,221.56L259.27,227.22M251.73,223.45L257.39,229.10M249.84,225.33L255.50,230.99M249.84,227.22L244.19,232.87M251.73,229.10L246.07,234.76M253.62,230.99L247.96,236.65M264.93,221.56L270.59,227.22M263.04,223.45L268.70,229.10M261.16,225.33L266.81,230.99M261.16,227.22L255.50,232.87M263.04,229.10L257.39,234.76M264.93,230.99L259.27,236.65M253.62,232.87L259.27,238.53M251.73,234.76L257.39,240.42M249.84,236.65L255.50,242.30M249.84,238.53L244.19,244.19M251.73,240.42L246.07,246.07M253.62,242.30L247.96,247.96M264.93,232.87L270.59,238.53M263.04,234.76L268.70,240.42M261.16,236.65L266.81,242.30M261.16,238.53L255.50,244.19M263.04,240.42L257.39,246.07M264.93,242.30L259.27,247.96M253.62,244.19L259.27,249.84M251.73,246.07L257.39,251.73M249.84,247.96L255.50,253.62M249.84,249.84L244.19,255.50M251.73,251.73L246.07,257.39M253.62,253.62L247.96,259.27M264.93,244.19L270.59,249.84M263.04,246.07L268.70,251.73M261.16,247.96L266.81,253.62M261.16,249.84L255.50,255.50M263.04,251.73L257.39,257.39M264.93,253.62L259.27,259.27M253.62,255.50L259.27,261.16M251.73,257.39L257.39,263.04M249.84,259.27L255.50,264.93M249.84,261.16L244.19,266.81M251.73,263.04L246.07,268.70M253.62,264.93L247.96,270.59M272.47,249.84L266.81,255.50M274.36,251.73L268.70,257.39M276.24,253.62L270.59,259.27M264.93,255.50L270.59,261.16M263.04,257.39L268.70,263.04M261.16,259.27L266.81,264.93M261.16,261.16L255.50,266.81M263.04,263.04L257.39,268.70M264.93,264.93L259.27,270.59M253.62,266.81L259.27,272.47M251.73,268.70L257.39,274.36M249.84,270.59L255.50,276.24M272.47,261.16L266.81,266.81M274.36,263.04L268.70,268.70M276.24,264.93L270.59,270.59M264.93,266.81L270.59,272.47M263.04,268.70L268.70,274.36M261.16,270.59L266.81,276.24M261.16,272.47L255.50,278.13M263.04,274.36L257.39,280.01M264.93,276.24L259.27,281.90M276.24,266.81L281.90,272.47M274.36,268.70L280.01,274.36M272.47,270.59L278.13,276.24M272.47,272.47L266.81,278.13M274.36,274.36L268.70,280.01M276.24,276.24L270.59,281.90M264.93,278.13L270.59,283.79M263.04,280.01L268.70,285.67M261.16,281.90L266.81,287.56M283.79,272.47L278.13,278.13M285.67,274.36L280.01,280.01M287.56,276.24L281.90,281.90M276.24,278.13L281.90,283.79M274.36,280.01L280.01,285.67M272.47,281.90L278.13,287.56M272.47,283.79L266.81,289.44M274.36,285.67L268.70,291.33M276.24,287.56L270.59,293.21M287.56,278.13L293.21,283.79M285.67,280.01L291.33,285.67M283.79,281.90L289.44,287.56M283.79,283.79L278.13,289.44M285.67,285.67L280.01,291.33M287.56,287.56L281.90,293.21M276.24,289.44L281.90,295.10M274.36,291.33L280.01,296.98M272.47,293.21L278.13,298.87M344.13,232.87L349.78,238.53M342.24,234.76L347.90,240.42M340.35,236.65L346.01,242.30M340.35,238.53L334.70,244.19M342.24,240.42L336.58,246.07M344.13,242.30L338.47,247.96M298.87,278.13L304.53,283.79M296.98,280.01L302.64,285.67M295.10,281.90L300.76,287.56M295.10,283.79L289.44,289.44M296.98,285.67L291.33,291.33M298.87,287.56L293.21,293.21M287.56,289.44L293.21,295.10M285.67,291.33L291.33,296.98M283.79,293.21L289.44,298.87M283.79,295.10L278.13,300.76M285.67,296.98L280.01,302.64M287.56,298.87L281.90,304.53M355.44,232.87L361.10,238.53M353.55,234.76L359.21,240.42M351.67,236.65L357.32,242.30M351.67,238.53L346.01,244.19M353.55,240.42L347.90,246.07M355.44,242.30L349.78,247.96M344.13,244.19L349.78,249.84M342.24,246.07L347.90,251.73M340.35,247.96L346.01,253.62M340.35,249.84L334.70,255.50M342.24,251.73L336.58,257.39M344.13,253.62L338.47,259.27M332.81,255.50L338.47,261.16M330.93,257.39L336.58,263.04M329.04,259.27L334.70,264.93M310.18,278.13L315.84,283.79M308.30,280.01L313.96,285.67M306.41,281.90L312.07,287.56M306.41,283.79L300.76,289.44M308.30,285.67L302.64,291.33M310.18,287.56L304.53,293.21M298.87,289.44L304.53,295.10M296.98,291.33L302.64,296.98M295.10,293.21L300.76,298.87M295.10,295.10L289.44,300.76M296.98,296.98L291.33,302.64M298.87,298.87L293.21,304.53M355.44,244.19L361.10,249.84M353.55,246.07L359.21,251.73M351.67,247.96L357.32,253.62M351.67,249.84L346.01,255.50M353.55,251.73L347.90,257.39M355.44,253.62L349.78,259.27M344.13,255.50L349.78,261.16M342.24,257.39L347.90,263.04M340.35,259.27L346.01,264.93M340.35,261.16L334.70,266.81M342.24,263.04L336.58,268.70M344.13,264.93L338.47,270.59M332.81,266.81L338.47,272.47M330.93,268.70L336.58,274.36M329.04,270.59L334.70,276.24M329.04,272.47L323.38,278.13M330.93,274.36L325.27,280.01M332.81,276.24L327.15,281.90M321.50,278.13L327.15,283.79M319.61,280.01L325.27,285.67M317.73,281.90L323.38,287.56M317.73,283.79L312.07,289.44M319.61,285.67L313.96,291.33M321.50,287.56L315.84,293.21M310.18,289.44L315.84,295.10M308.30,291.33L313.96,296.98M306.41,293.21L312.07,298.87M306.41,295.10L300.76,300.76M308.30,296.98L302.64,302.64M310.18,298.87L304.53,304.53M298.87,300.76L304.53,306.41M296.98,302.64L302.64,308.30M295.10,304.53L300.76,310.18M355.44,255.50L361.10,261.16M353.55,257.39L359.21,263.04M351.67,259.27L357.32,264.93M351.67,261.16L346.01,266.81M353.55,263.04L347.90,268.70M355.44,264.93L349.78,270.59M344.13,266.81L349.78,272.47M342.24,268.70L347.90,274.36M340.35,270.59L346.01,276.24M340.35,272.47L334.70,278.13M342.24,274.36L336.58,280.01M344.13,276.24L338.47,281.90M332.81,278.13L338.47,283.79M330.93,280.01L336.58,285.67M329.04,281.90L334.70,287.56M329.04,283.79L323.38,289.44M330.93,285.67L325.27,291.33M332.81,287.56L327.15,293.21M321.50,289.44L327.15,295.10M319.61,291.33L325.27,296.98M317.73,293.21L323.38,298.87M317.73,295.10L312.07,300.76M319.61,296.98L313.96,302.64M321.50,298.87L315.84,304.53M310.18,300.76L315.84,306.41M308.30,302.64L313.96,308.30M306.41,304.53L312.07,310.18M355.44,266.81L361.10,272.47M353.55,268.70L359.21,274.36M351.67,270.59L357.32,276.24M351.67,272.47L346.01,278.13M353.55,274.36L347.90,280.01M355.44,276.24L349.78,281.90M344.13,278.13L349.78,283.79M342.24,280.01L347.90,285.67M340.35,281.90L346.01,287.56M340.35,283.79L334.70,289.44M342.24,285.67L336.58,291.33M344.13,287.56L338.47,293.21M332.81,289.44L338.47,295.10M330.93,291.33L336.58,296.98M329.04,293.21L334.70,298.87M329.04,295.10L323.38,300.76M330.93,296.98L325.27,302.64M332.81,298.87L327.15,304.53" stroke="#222" stroke-width="1.0" fill="none"/><path d="M253.10,179.00 L253.10,180.00 L253.10,180.99 L253.10,181.99 L253.10,182.99 L253.10,183.98 L253.10,184.98 L253.10,185.98 L253.10,186.97 L253.10,187.97 L253.10,188.97 L253.10,189.96 L253.10,190.96 L253.10,191.96 L253.10,192.95 L253.10,193.95 L253.10,194.95 L253.10,195.94 L253.10,196.94 L253.10,197.94 L253.10,198.93 L253.10,199.93 L253.10,200.92 L253.10,201.92 L253.10,202.92 L253.10,203.91 L253.10,204.91 L253.10,205.91 L253.10,206.90 L253.10,207.90 L253.10,208.90 L253.10,209.89 L253.10,210.89 L253.10,211.89 L253.10,212.88 L253.10,213.88 L253.10,214.88 L253.10,215.87 L253.10,216.87 L253.10,217.87 L253.10,218.86 L253.10,219.86 L253.10,220.86 L253.10,221.85 L253.10,222.85 L253.10,223.85 L253.10,224.84 L253.10,225.84 L253.10,226.84 L253.10,227.83 L253.10,228.83 L253.10,229.83 L253.10,230.82 L253.10,231.82 L253.10,232.82 L253.10,233.81 L253.10,234.81 L253.10,235.81 L253.10,236.80 L253.10,237.80 L253.10,238.80 L253.10,239.79 L253.10,240.79 L253.10,241.79 L253.10,242.78 L253.10,243.78 L253.10,244.77 L253.10,245.77 L253.10,246.77 L253.10,247.76 L253.10,248.76 L253.11,249.86 L253.15,250.99 L253.20,252.05 L253.29,253.18 L253.40,254.30 L253.54,255.42 L253.69,256.48 L253.87,257.59 L254.08,258.70 L254.30,259.74 L254.56,260.84 L254.84,261.94 L255.13,262.96 L255.46,264.04 L255.81,265.11 L256.17,266.12 L256.57,267.17 L256.99,268.22 L257.41,269.20 L257.88,270.23 L258.37,271.24 L258.85,272.19 L259.39,273.19 L259.94,274.17 L260.49,275.08 L261.09,276.04 L261.71,276.99 L262.31,277.86 L262.97,278.78 L263.65,279.68 L264.31,280.51 L265.03,281.38 L265.77,282.24 L266.53,283.08 L267.26,283.85 L268.06,284.65 L268.87,285.44 L269.65,286.16 L270.49,286.91 L271.36,287.64 L272.18,288.31 L273.08,289.00 L273.98,289.68 L274.85,290.29 L275.79,290.92 L276.74,291.53 L277.64,292.09 L278.62,292.66 L279.61,293.21 L280.55,293.70 L281.56,294.21 L282.59,294.69 L283.56,295.12 L284.60,295.55 L285.65,295.97 L286.65,296.33 L287.72,296.70 L288.80,297.04 L289.82,297.34 L290.91,297.64 L292.00,297.91 L293.11,298.16 L294.15,298.37 L295.26,298.56 L296.38,298.74 L297.43,298.88 L298.56,299.00 L299.68,299.10 L300.74,299.17 L301.87,299.22 L303.00,299.25 L304.06,299.25 L305.19,299.22 L306.32,299.17 L307.38,299.10 L308.51,299.00 L309.63,298.88 L310.69,298.74 L311.80,298.57 L312.92,298.37 L313.96,298.16 L315.06,297.92 L316.16,297.65 L317.19,297.37 L318.27,297.05 L319.35,296.71 L320.35,296.37 L321.42,295.98 L322.47,295.57 L323.51,295.13 L324.48,294.70 L325.51,294.22 L326.52,293.72 L327.46,293.22 L328.45,292.68 L329.42,292.11 L330.33,291.55 L331.28,290.94 L332.22,290.31 L333.09,289.70 L334.00,289.03 L334.89,288.33 L335.72,287.66 L336.58,286.93 L337.42,286.18 L338.21,285.46 L339.02,284.68 L339.81,283.87 L340.54,283.10 L341.30,282.26 L342.04,281.41 L342.72,280.59 L343.42,279.71 L344.11,278.81 L344.73,277.94 L345.37,277.01 L345.99,276.07 L346.59,275.11 L347.14,274.20 L347.70,273.22 L348.23,272.22 L348.72,271.28 L349.21,270.26 L349.68,269.23 L350.10,268.25 L350.52,267.21 L350.92,266.15 L351.28,265.15 L351.63,264.07 L351.96,262.99 L352.25,261.97 L352.53,260.88 L352.79,259.78 L353.01,258.74 L353.22,257.62 L353.41,256.51 L353.56,255.46 L353.69,254.34 L353.81,253.21 L353.89,252.15 L353.95,251.02 L353.99,249.89 L354.00,248.80 L354.00,247.80" stroke="#1c1c1c" stroke-width="1.3" fill="none"/><path d="M263.30,179.00 L263.30,180.00 L263.30,180.99 L263.30,181.99 L263.30,182.99 L263.30,183.98 L263.30,184.98 L263.30,185.98 L263.30,186.97 L263.30,187.97 L263.30,188.97 L263.30,189.96 L263.30,190.96 L263.30,191.96 L263.30,192.95 L263.30,193.95 L263.30,194.95 L263.30,195.94 L263.30,196.94 L263.30,197.94 L263.30,198.93 L263.30,199.93 L263.30,200.92 L263.30,201.92 L263.30,202.92 L263.30,203.91 L263.30,204.91 L263.30,205.91 L263.30,206.90 L263.30,207.90 L263.30,208.90 L263.30,209.89 L263.30,210.89 L263.30,211.89 L263.30,212.88 L263.30,213.88 L263.30,214.88 L263.30,215.87 L263.30,216.87 L263.30,217.87 L263.30,218.86 L263.30,219.86 L263.30,220.86 L263.30,221.85 L263.30,222.85 L263.30,223.85 L263.30,224.84 L263.30,225.84 L263.30,226.84 L263.30,227.83 L263.30,228.83 L263.30,229.83 L263.30,230.82 L263.30,231.82 L263.30,232.82 L263.30,233.81 L263.30,234.81 L263.30,235.81 L263.30,236.80 L263.30,237.80 L263.30,238.80 L263.30,239.79 L263.30,240.79 L263.30,241.79 L263.30,242.78 L263.30,243.78 L263.30,244.77 L263.30,245.77 L263.30,246.77 L263.30,247.76 L263.30,248.76 L263.31,249.66 L263.34,250.52 L263.39,251.45 L263.45,252.31 L263.54,253.17 L263.64,254.03 L263.77,254.95 L263.91,255.80 L264.07,256.65 L264.26,257.56 L264.46,258.40 L264.68,259.23 L264.93,260.13 L265.18,260.95 L265.45,261.77 L265.76,262.65 L266.06,263.46 L266.39,264.26 L266.75,265.11 L267.11,265.90 L267.49,266.67 L267.91,267.50 L268.32,268.26 L268.74,269.01 L269.22,269.81 L269.68,270.54 L270.15,271.26 L270.68,272.03 L271.19,272.73 L271.71,273.42 L272.28,274.15 L272.83,274.81 L273.40,275.46 L273.98,276.10 L274.62,276.78 L275.22,277.39 L275.84,277.99 L276.52,278.63 L277.17,279.20 L277.83,279.76 L278.55,280.34 L279.23,280.87 L279.92,281.39 L280.68,281.92 L281.40,282.41 L282.12,282.87 L282.92,283.36 L283.66,283.79 L284.42,284.21 L285.24,284.64 L286.01,285.03 L286.79,285.40 L287.64,285.77 L288.44,286.11 L289.24,286.42 L290.12,286.74 L290.93,287.02 L291.76,287.28 L292.65,287.55 L293.48,287.77 L294.32,287.98 L295.16,288.17 L296.07,288.35 L296.92,288.50 L297.78,288.63 L298.70,288.76 L299.56,288.85 L300.41,288.93 L301.34,288.99 L302.20,289.03 L303.07,289.05 L304.00,289.05 L304.86,289.03 L305.72,288.99 L306.65,288.93 L307.51,288.85 L308.37,288.76 L309.29,288.64 L310.14,288.51 L310.99,288.36 L311.90,288.17 L312.75,287.98 L313.58,287.78 L314.48,287.54 L315.31,287.29 L316.13,287.03 L317.01,286.73 L317.82,286.43 L318.63,286.12 L319.42,285.79 L320.27,285.41 L321.05,285.04 L321.83,284.66 L322.65,284.23 L323.41,283.81 L324.15,283.38 L324.95,282.89 L325.67,282.42 L326.39,281.94 L327.15,281.41 L327.84,280.89 L328.52,280.37 L329.25,279.78 L329.90,279.22 L330.55,278.65 L331.23,278.02 L331.85,277.42 L332.46,276.80 L333.10,276.13 L333.68,275.49 L334.24,274.84 L334.84,274.12 L335.37,273.44 L335.89,272.76 L336.44,272.00 L336.93,271.29 L337.40,270.57 L337.86,269.84 L338.34,269.04 L338.76,268.29 L339.17,267.53 L339.60,266.70 L339.97,265.93 L340.33,265.14 L340.70,264.29 L341.02,263.49 L341.33,262.68 L341.64,261.81 L341.91,260.99 L342.16,260.16 L342.42,259.27 L342.63,258.43 L342.83,257.59 L343.02,256.68 L343.18,255.83 L343.32,254.98 L343.45,254.06 L343.56,253.20 L343.64,252.34 L343.71,251.42 L343.76,250.56 L343.79,249.69 L343.80,248.80 L343.80,247.80" stroke="#1c1c1c" stroke-width="1.3" fill="none"/>
<path d="M229.7,142.6 C231.6,121.9 218.1,48.2 250.0,40.4 C276.7,42.5 269.7,128.3 272.5,142.6" stroke="#1c1c1c" stroke-width="1.1" fill="#fff"/>
<path d="M236.6,59.5 L237.6,80.8 M261.9,60.2 L260.8,80.8" stroke="#1c1c1c" stroke-width="1.1" fill="none" />
<path d="M237.4,80.6 Q249.2,76.8 261,80.6 L261,83 Q249.2,79.2 237.4,83 Z" stroke="#1c1c1c" stroke-width="0.9" fill="#fff"/>
<path d="M237.4,83 L239.6,89.5 M261,83 L258.6,89.5" stroke="#1c1c1c" stroke-width="0.9" fill="none"/>
<ellipse cx="249.1" cy="90.6" rx="9.6" ry="3.6" stroke="#1c1c1c" stroke-width="1.2" fill="#fff"/>
<rect x="244.80" y="83.80" width="8.30" height="3.10" rx="0" stroke="#1c1c1c" stroke-width="0.9" fill="#fff" />
<path d="M225.2,152.4 Q225.8,142.8 230,142.7 L271.5,142.7 Q276,142.8 276.7,152.4 Z" stroke="#1c1c1c" stroke-width="1.1" fill="#fff"/>
<path d="M227,152.4 L275,152.4 L271.5,154.7 L230,154.7 Z" fill="#111"/>
<rect x="238.00" y="154.70" width="9.70" height="24.80" rx="0" stroke="#1c1c1c" stroke-width="1.0" fill="#fff" />
<rect x="237.80" y="163.80" width="10.10" height="11.70" rx="0" stroke="#1c1c1c" stroke-width="1.0" fill="#fff" />
<line x1="238.00" y1="167.60" x2="247.70" y2="167.60" stroke="#1c1c1c" stroke-width="0.9" />
<line x1="238.00" y1="171.00" x2="247.70" y2="171.00" stroke="#1c1c1c" stroke-width="0.9" />
<rect x="239.40" y="164.50" width="2.00" height="2.40" rx="0" stroke="#1c1c1c" stroke-width="0.5" fill="#999" />
<rect x="244.30" y="164.50" width="2.00" height="2.40" rx="0" stroke="#1c1c1c" stroke-width="0.5" fill="#999" />
<rect x="252.80" y="154.70" width="9.60" height="24.80" rx="0" stroke="#1c1c1c" stroke-width="1.0" fill="#fff" />
<rect x="252.60" y="163.80" width="10.00" height="11.70" rx="0" stroke="#1c1c1c" stroke-width="1.0" fill="#fff" />
<line x1="252.80" y1="167.60" x2="262.40" y2="167.60" stroke="#1c1c1c" stroke-width="0.9" />
<line x1="252.80" y1="171.00" x2="262.40" y2="171.00" stroke="#1c1c1c" stroke-width="0.9" />
<rect x="254.20" y="164.50" width="2.00" height="2.40" rx="0" stroke="#1c1c1c" stroke-width="0.5" fill="#999" />
<rect x="259.00" y="164.50" width="2.00" height="2.40" rx="0" stroke="#1c1c1c" stroke-width="0.5" fill="#999" />
<line x1="248.60" y1="156.20" x2="251.90" y2="156.20" stroke="#111" stroke-width="1.2" />
<line x1="248.60" y1="158.65" x2="251.90" y2="158.65" stroke="#111" stroke-width="1.2" />
<line x1="248.60" y1="161.10" x2="251.90" y2="161.10" stroke="#111" stroke-width="1.2" />
<line x1="248.60" y1="163.55" x2="251.90" y2="163.55" stroke="#111" stroke-width="1.2" />
<line x1="248.60" y1="166.00" x2="251.90" y2="166.00" stroke="#111" stroke-width="1.2" />
<line x1="248.60" y1="168.45" x2="251.90" y2="168.45" stroke="#111" stroke-width="1.2" />
<line x1="248.60" y1="170.90" x2="251.90" y2="170.90" stroke="#111" stroke-width="1.2" />
<line x1="248.60" y1="173.35" x2="251.90" y2="173.35" stroke="#111" stroke-width="1.2" />
<line x1="248.60" y1="175.80" x2="251.90" y2="175.80" stroke="#111" stroke-width="1.2" />
<line x1="248.60" y1="178.25" x2="251.90" y2="178.25" stroke="#111" stroke-width="1.2" />
<line x1="248.60" y1="180.70" x2="251.90" y2="180.70" stroke="#111" stroke-width="1.2" />
<line x1="248.60" y1="183.15" x2="251.90" y2="183.15" stroke="#111" stroke-width="1.2" />
<line x1="248.60" y1="185.60" x2="251.90" y2="185.60" stroke="#111" stroke-width="1.2" />
<line x1="248.60" y1="188.05" x2="251.90" y2="188.05" stroke="#111" stroke-width="1.2" />
<line x1="248.60" y1="190.50" x2="251.90" y2="190.50" stroke="#111" stroke-width="1.2" />
<line x1="248.60" y1="192.95" x2="251.90" y2="192.95" stroke="#111" stroke-width="1.2" />
<line x1="248.00" y1="155.00" x2="248.00" y2="194.50" stroke="#1c1c1c" stroke-width="0.7" />
<line x1="252.50" y1="155.00" x2="252.50" y2="194.50" stroke="#1c1c1c" stroke-width="0.7" />
<rect x="229.90" y="189.00" width="40.40" height="5.40" rx="0" stroke="#1c1c1c" stroke-width="1.1" fill="#fff" />
<rect x="246.90" y="194.40" width="7.10" height="22.30" rx="0" stroke="#000" stroke-width="0.4" fill="#000" />
<rect x="249" y="211.5" width="3.2" height="2" fill="#fff"/>
<path d="M247.5,216.5 L247.5,378.6 L253.8,378.6 L253.8,216.5" stroke="#000" stroke-width="1.6" fill="#fff"/>
<path d="M226.4,351 L226.6,357.8 L421.4,372.2 L421.4,366.2 Z" stroke="#1c1c1c" stroke-width="1.1" fill="#fff"/>
<path d="M247.2,350.5 Q250.8,348.8 254.4,350.5 L254.4,360 Q250.8,361.8 247.2,360 Z" stroke="#1c1c1c" stroke-width="1.1" fill="#fff"/>
<path d="M453.8,282 L452.3,280.5 L452.1,273 Q474.3,268.6 496.6,273 L496.4,280.5 L494.9,282 Z" stroke="#1c1c1c" stroke-width="1.1" fill="#fff"/>
<line x1="452.30" y1="274.40" x2="496.40" y2="274.40" stroke="#1c1c1c" stroke-width="0.9" />
<line x1="452.30" y1="276.50" x2="496.40" y2="276.50" stroke="#1c1c1c" stroke-width="0.9" />
<line x1="452.50" y1="278.70" x2="496.20" y2="278.70" stroke="#1c1c1c" stroke-width="0.9" />
<line x1="453.00" y1="281.00" x2="495.70" y2="281.00" stroke="#1c1c1c" stroke-width="0.8" />
<rect x="455.50" y="282.00" width="37.10" height="7.00" rx="0" stroke="#1c1c1c" stroke-width="1.1" fill="#fff" />
<line x1="472.50" y1="282.00" x2="472.50" y2="289.00" stroke="#1c1c1c" stroke-width="0.9" />
<line x1="476.60" y1="282.00" x2="476.60" y2="289.00" stroke="#1c1c1c" stroke-width="0.9" />
<path d="M439.5,291.4 L509,291.4 L497.5,304.5 L497.5,340.5 L452,340.5 L452,304.5 Z" stroke="#1c1c1c" stroke-width="1.1" fill="#fff"/>
<path d="M439.2,288.2 L509.5,288.2 Q511,289.8 509.5,291.6 L439.2,291.6 Q437.6,289.8 439.2,288.2 Z" stroke="#1c1c1c" stroke-width="0.9" fill="#fff"/>
<line x1="439.00" y1="289.20" x2="509.70" y2="289.20" stroke="#222" stroke-width="1.6" />
<line x1="452.00" y1="304.50" x2="497.50" y2="304.50" stroke="#1c1c1c" stroke-width="0.9" />
<rect x="459" y="306.8" width="30.6" height="14.5" rx="7.25" stroke="#1c1c1c" stroke-width="1.1" fill="#fff"/>
<line x1="468.90" y1="306.80" x2="468.90" y2="321.30" stroke="#1c1c1c" stroke-width="0.9" />
<line x1="480.30" y1="306.80" x2="480.30" y2="321.30" stroke="#1c1c1c" stroke-width="0.9" />
<line x1="452.50" y1="330.30" x2="497.00" y2="327.00" stroke="#333" stroke-width="1.0" />
<line x1="452.50" y1="333.80" x2="497.00" y2="330.50" stroke="#333" stroke-width="1.0" />
<line x1="452.50" y1="337.30" x2="497.00" y2="334.00" stroke="#333" stroke-width="1.0" />
<line x1="452.50" y1="340.80" x2="497.00" y2="337.50" stroke="#333" stroke-width="1.0" />
<path d="M440.5,340.4 L507.7,340.4 Q509.5,340.6 508.3,342 L506,344.6 L442,344.6 L439.8,342 Q438.8,340.6 440.5,340.4 Z" stroke="#1c1c1c" stroke-width="1.1" fill="#fff"/>
<line x1="441.50" y1="343.60" x2="506.70" y2="343.60" stroke="#1c1c1c" stroke-width="1.0" />
<path d="M447.3,344.6 L450.8,383 L450.8,395.8 L499.2,395.8 L499.2,383 L501.5,344.6" stroke="#1c1c1c" stroke-width="1.1" fill="#fff"/>
<line x1="451.20" y1="386.10" x2="498.80" y2="383.10" stroke="#333" stroke-width="1.0" />
<line x1="451.20" y1="389.10" x2="498.80" y2="386.10" stroke="#333" stroke-width="1.0" />
<line x1="451.20" y1="392.10" x2="498.80" y2="389.10" stroke="#333" stroke-width="1.0" />
<line x1="451.20" y1="395.10" x2="498.80" y2="392.10" stroke="#333" stroke-width="1.0" />
<path d="M437.5,358.9 L446.5,358.9 Q452.3,360 452.3,371.2 Q452.3,382.4 446.5,383.5 L437.5,383.5 Z" stroke="#1c1c1c" stroke-width="1.1" fill="#fff"/>
<path d="M426.2,357.3 L435.8,357.3 Q437.7,357.3 437.7,359.3 L437.7,382.5 Q437.7,384.5 435.8,384.5 L426.2,384.5 Q424.2,384.5 424.2,382.5 L424.2,359.3 Q424.2,357.3 426.2,357.3 Z" stroke="#1c1c1c" stroke-width="1.1" fill="#fff"/>
<rect x="428.00" y="357.60" width="6.80" height="26.60" rx="0" stroke="#1c1c1c" stroke-width="0.8" fill="#8a8a8a" />
<rect x="428" y="357.4" width="6.8" height="2.2" fill="#000"/>
<rect x="428" y="382.2" width="6.8" height="2.2" fill="#000"/>
<line x1="428.30" y1="361.00" x2="434.50" y2="361.00" stroke="#e6e6e6" stroke-width="0.9" />
<line x1="428.30" y1="363.75" x2="434.50" y2="363.75" stroke="#e6e6e6" stroke-width="0.9" />
<line x1="428.30" y1="366.50" x2="434.50" y2="366.50" stroke="#e6e6e6" stroke-width="0.9" />
<line x1="428.30" y1="369.25" x2="434.50" y2="369.25" stroke="#e6e6e6" stroke-width="0.9" />
<line x1="428.30" y1="372.00" x2="434.50" y2="372.00" stroke="#e6e6e6" stroke-width="0.9" />
<line x1="428.30" y1="374.75" x2="434.50" y2="374.75" stroke="#e6e6e6" stroke-width="0.9" />
<line x1="428.30" y1="377.50" x2="434.50" y2="377.50" stroke="#e6e6e6" stroke-width="0.9" />
<line x1="428.30" y1="380.25" x2="434.50" y2="380.25" stroke="#e6e6e6" stroke-width="0.9" />
<path d="M421.4,366.3 Q423.5,365.5 424.2,362.6 L424.2,376.8 Q423.5,373.5 421.4,372.6 Z" stroke="#1c1c1c" stroke-width="0.9" fill="#fff"/>
<path d="M488.2,151.8 L491.9,142.4 L534.7,142.4 L538.8,151.8 Z" stroke="#1c1c1c" stroke-width="1.1" fill="#fff"/>
<line x1="488.20" y1="151.90" x2="538.80" y2="151.90" stroke="#111" stroke-width="1.7" />
<path d="M492.1,142.4 C493.5,96.7 516.2,41.0 571.3,43.9 C593.1,44.1 623.1,59.5 631.9,80.4" stroke="#1c1c1c" stroke-width="1.1" fill="none" />
<path d="M534.5,142.4 C533.0,110.1 544.1,69.6 584.0,69.3 C594.0,70.5 610.9,74.7 612.5,87.3" stroke="#1c1c1c" stroke-width="1.1" fill="none" />
<path d="M612.5,87.3 L631.9,80.4 L632.9,87.7 L616.3,94.3 Z" stroke="#1c1c1c" stroke-width="1.1" fill="#fff"/>
<line x1="612.50" y1="87.30" x2="631.90" y2="80.40" stroke="#111" stroke-width="1.6" />
<rect x="498.6" y="61.2" width="16" height="12.3" rx="1" stroke="#1c1c1c" stroke-width="1.1" fill="#fff"/>
<path d="M502.3,73.5 L502.3,92.4 M512.3,73.5 L512.3,75.9" stroke="#1c1c1c" stroke-width="1.1" fill="none" />
<line x1="73.80" y1="93.00" x2="73.80" y2="151.00" stroke="#8c8c8c" stroke-width="1.0" />
<path d="M73.80,91.80 L75.50,97.30 L72.10,97.30 Z" fill="#000" stroke="none"/>
<path d="M73.80,152.20 L72.10,146.70 L75.50,146.70 Z" fill="#000" stroke="none"/>
<text transform="translate(72.00,130.45) rotate(-90) scale(1.0654,1)" font-size="15">65</text>
<line x1="71.80" y1="136.30" x2="80.00" y2="136.30" stroke="#222" stroke-width="0.9" />
<path d="M87.00,136.30 L77.50,139.10 L77.50,133.50 Z" fill="#000" stroke="none"/>
<line x1="88.60" y1="134.20" x2="88.60" y2="143.50" stroke="#8c8c8c" stroke-width="0.9" />
<line x1="146.00" y1="136.30" x2="152.90" y2="136.30" stroke="#222" stroke-width="0.9" />
<path d="M137.30,136.30 L146.80,133.50 L146.80,139.10 Z" fill="#000" stroke="none"/>
<line x1="135.10" y1="134.20" x2="135.10" y2="143.50" stroke="#8c8c8c" stroke-width="0.9" />
<text transform="translate(153.96,138.00) scale(1.0625,1)" font-size="15">Ø50</text>
<line x1="291.30" y1="41.00" x2="291.30" y2="151.50" stroke="#8c8c8c" stroke-width="1.0" />
<path d="M291.30,40.00 L293.30,44.50 L289.30,44.50 Z" fill="#000" stroke="none"/>
<path d="M291.30,152.30 L289.30,147.80 L293.30,147.80 Z" fill="#000" stroke="none"/>
<line x1="250.00" y1="40.30" x2="291.80" y2="40.30" stroke="#8c8c8c" stroke-width="1.1" />
<text transform="translate(289.40,107.10) rotate(-90) scale(1.0948,1)" font-size="15">131</text>
<text transform="translate(183.16,170.20) scale(1.0738,1)" font-size="15">Ø35</text>
<text transform="translate(182.04,187.80) scale(1.0517,1)" font-size="15">Hole</text>
<line x1="212.90" y1="171.40" x2="219.00" y2="171.40" stroke="#222" stroke-width="0.9" />
<path d="M227.60,171.40 L218.10,174.20 L218.10,168.60 Z" fill="#000" stroke="none"/>
<line x1="281.00" y1="171.40" x2="287.60" y2="171.40" stroke="#222" stroke-width="0.9" />
<path d="M272.80,171.40 L282.30,168.60 L282.30,174.20 Z" fill="#000" stroke="none"/>
<text transform="translate(332.15,170.20) scale(1.0882,1)" font-size="15">Ø30</text>
<text transform="translate(331.14,187.80) scale(1.0517,1)" font-size="15">Hole</text>
<line x1="360.10" y1="171.40" x2="366.00" y2="171.40" stroke="#222" stroke-width="0.9" />
<path d="M375.30,171.40 L365.80,174.20 L365.80,168.60 Z" fill="#000" stroke="none"/>
<line x1="417.00" y1="171.40" x2="424.00" y2="171.40" stroke="#222" stroke-width="0.9" />
<path d="M408.30,171.40 L417.80,168.60 L417.80,174.20 Z" fill="#000" stroke="none"/>
<text transform="translate(418.27,124.70) scale(1.1139,1)" font-size="15">45</text>
<text transform="translate(411.32,137.40) scale(0.9871,1)" font-size="15">MAX</text>
<line x1="428.10" y1="143.20" x2="428.10" y2="147.00" stroke="#222" stroke-width="0.9" />
<path d="M428.10,152.20 L424.30,146.20 L431.90,146.20 Z" fill="#000" stroke="none"/>
<line x1="428.10" y1="193.00" x2="428.10" y2="198.40" stroke="#222" stroke-width="0.9" />
<path d="M428.10,189.20 L431.90,195.20 L424.30,195.20 Z" fill="#000" stroke="none"/>
<line x1="508.00" y1="20.00" x2="623.00" y2="20.00" stroke="#c4c4c4" stroke-width="1.6" />
<path d="M506.40,20.00 L510.90,18.20 L510.90,21.80 Z" fill="#000" stroke="none"/>
<path d="M624.80,20.00 L620.30,21.80 L620.30,18.20 Z" fill="#000" stroke="none"/>
<line x1="506.40" y1="19.50" x2="506.40" y2="61.20" stroke="#333" stroke-width="1.0" />
<line x1="624.40" y1="20.00" x2="624.40" y2="88.50" stroke="#bdbdbd" stroke-width="1.4" />
<text transform="translate(559.46,17.50) scale(1.1250,1)" font-size="15">142</text>
<line x1="657.80" y1="94.50" x2="657.80" y2="151.50" stroke="#8c8c8c" stroke-width="1.0" />
<path d="M657.80,93.50 L659.20,98.50 L656.40,98.50 Z" fill="#000" stroke="none"/>
<path d="M657.80,152.20 L656.40,147.20 L659.20,147.20 Z" fill="#000" stroke="none"/>
<line x1="616.50" y1="94.30" x2="659.00" y2="94.30" stroke="#8c8c8c" stroke-width="1.0" />
<text transform="translate(653.40,125.49) rotate(-90) scale(1.1111,1)" font-size="15">70</text>
<line x1="470.00" y1="130.40" x2="479.00" y2="130.40" stroke="#222" stroke-width="0.9" />
<path d="M488.00,130.40 L478.50,133.20 L478.50,127.60 Z" fill="#000" stroke="none"/>
<line x1="547.00" y1="130.40" x2="555.70" y2="130.40" stroke="#222" stroke-width="0.9" />
<path d="M538.50,130.40 L548.00,127.60 L548.00,133.20 Z" fill="#000" stroke="none"/>
<line x1="488.10" y1="126.40" x2="488.10" y2="142.40" stroke="#8c8c8c" stroke-width="0.9" />
<line x1="538.30" y1="126.40" x2="538.30" y2="142.40" stroke="#8c8c8c" stroke-width="0.9" />
<text transform="translate(557.56,131.80) scale(1.0662,1)" font-size="15">Ø60</text>
<text transform="translate(48.35,313.20) scale(1.0775,1)" font-size="15">Ø15</text>
<text transform="translate(37.75,330.40) scale(1.0603,1)" font-size="15">Copper</text>
<line x1="84.40" y1="309.00" x2="91.00" y2="309.00" stroke="#222" stroke-width="0.9" />
<path d="M99.50,309.00 L90.50,311.60 L90.50,306.40 Z" fill="#000" stroke="none"/>
<text transform="translate(86.60,349.50) scale(1.0000,1.0000)" font-size="15">HOT</text>
<text transform="translate(122.46,349.60) scale(1.2419,1.0291)" font-size="15">IN</text>
<text transform="translate(358.82,350.20) scale(0.9751,1.0189)" font-size="15">COLD</text>
<text transform="translate(404.53,350.10) scale(1.2661,1.0291)" font-size="15">IN</text>
<text transform="translate(381.10,408.60) scale(1.0000,0.9528)" font-size="15">G1</text>
<text transform="translate(402.27,405.70) scale(0.9923,1.0340)" font-size="10">1</text>
<text transform="translate(408.20,410.21) scale(1.4610,1.1653)" font-size="11">/</text>
<text transform="translate(413.09,408.90) scale(0.9689,1.0989)" font-size="11">4</text>
<text transform="translate(420.19,410.57) scale(1.1820,1.4423)" font-size="13">"</text>
<line x1="434.00" y1="408.90" x2="440.00" y2="408.90" stroke="#222" stroke-width="0.9" />
<path d="M449.40,408.90 L440.40,411.50 L440.40,406.30 Z" fill="#000" stroke="none"/>
<line x1="450.80" y1="399.70" x2="450.80" y2="418.90" stroke="#8c8c8c" stroke-width="1.0" />
<line x1="496.50" y1="399.70" x2="496.50" y2="418.90" stroke="#8c8c8c" stroke-width="1.0" />
<line x1="507.00" y1="408.90" x2="513.00" y2="408.90" stroke="#222" stroke-width="0.9" />
<path d="M497.20,408.90 L506.20,406.30 L506.20,411.50 Z" fill="#000" stroke="none"/>
</svg></body></html>
